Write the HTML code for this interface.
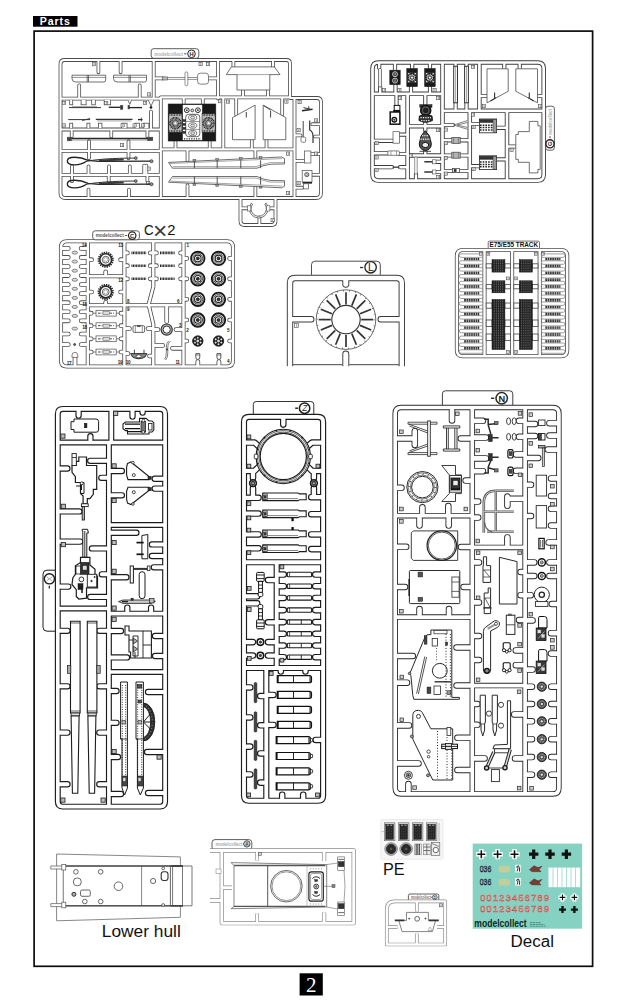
<!DOCTYPE html>
<html><head><meta charset="utf-8"><title>Parts</title>
<style>
html,body{margin:0;padding:0;background:#fff;}
body{width:625px;height:1000px;overflow:hidden;position:relative;font-family:"Liberation Sans",sans-serif;}
svg{position:absolute;left:0;top:0;display:block;}
</style></head><body>
<svg width="625" height="1000" viewBox="0 0 625 1000">
<rect x="0" y="0" width="625" height="1000" fill="#fff"/>
<rect x="34.1" y="31.1" width="558.5" height="935.2" fill="none" stroke="#0c0c0c" stroke-width="1.7"/>
<rect x="33" y="16" width="44.5" height="10.7" fill="#000"/>
<text x="55.2" y="25.3" font-size="10.6" text-anchor="middle" fill="#fff" font-family='"Liberation Sans", sans-serif' font-weight="bold" letter-spacing="0.9">Parts</text>
<rect x="299.6" y="973.3" width="23.2" height="22.2" fill="#000"/>
<text x="311.2" y="992.3" font-size="21" text-anchor="middle" fill="#fff" font-family='"Liberation Serif", serif' font-weight="normal" >2</text>
<path d="M64.5,60 H286.5 Q290,60 290,63.5 V98 H317 Q321,98 321,102 V193 Q321,198 316,198 H275.5 V221 Q275.5,225 271.5,225 H244.5 Q240.5,225 240.5,221 V198 H65.5 Q60.5,198 60.5,193 V64 Q60.5,60 64.5,60 Z M240.5,198 H275.5 M60.5,98.7 H160.8 M160.8,97.3 H290 M60.5,129.5 H160.8 M160.8,149.3 H294.5 M60.5,150.8 H160.8 M60.5,174.8 H160.8 M153.7,60 V98.5 M218,60 V98.5 M160.8,97.3 V198 M223.3,97.3 V149.3 M294.5,98 V198 " stroke="#4c4c4c" stroke-width="3.80" fill="none" stroke-linejoin="round" stroke-linecap="round"/>
<path d="M98.4,61 V72.3 M120.6,61 V72.3 M79.2,97.5 V85.3 M139.7,97.5 V85.3 M151,128.5 V111.5 M71.7,131 V136.5 M111.3,131 V136.5 M147.4,131 V136.5 M89,149.5 V141.2 M128.5,149.5 V141.2 M89,152 V158.2 M128.5,152 V158.2 M72,173.5 V166.3 M88.5,173.5 V166.3 M109,173.5 V166.3 M129.8,173.5 V166.3 M144.2,173.5 V165.5 M146.4,173.5 V165.5 M72,176 V181.2 M108.7,176 V181.2 M147.4,176 V181.2 M88.5,197 V189.6 M129,197 V189.6 M155,78.4 H162.6 M208.6,78.4 H217 M233.4,61 V67 M273,61 V67 M243,96.5 V90.5 M268,96.5 V90.5 M183.7,98 V104 M202.8,98 V104 M175.5,148.5 V141.5 M209.7,148.5 V141.5 M236.2,98 V114.5 M282.2,98 V114.5 M251.8,148.5 V140.3 M266.5,148.5 V140.3 M187.5,150 V160.6 M255.4,150 V157.6 M187.5,197 V185.2 M255.4,197 V187.4 M320,124.2 H312.3 M320,136.5 H315 M320,154 H311.3 M320,174.8 H312.6 M295.5,135.4 H300.6 M295.5,161 H304 M295.5,187.7 H302 M259.4,224 V217.4 M241.5,208.3 H247.5 M274.5,208.3 H270 " stroke="#4c4c4c" stroke-width="3.70" fill="none" stroke-linejoin="round" stroke-linecap="round"/>
<path d="M64.5,60 H286.5 Q290,60 290,63.5 V98 H317 Q321,98 321,102 V193 Q321,198 316,198 H275.5 V221 Q275.5,225 271.5,225 H244.5 Q240.5,225 240.5,221 V198 H65.5 Q60.5,198 60.5,193 V64 Q60.5,60 64.5,60 Z M240.5,198 H275.5 M60.5,98.7 H160.8 M160.8,97.3 H290 M60.5,129.5 H160.8 M160.8,149.3 H294.5 M60.5,150.8 H160.8 M60.5,174.8 H160.8 M153.7,60 V98.5 M218,60 V98.5 M160.8,97.3 V198 M223.3,97.3 V149.3 M294.5,98 V198 " stroke="#fff" stroke-width="2.20" fill="none" stroke-linejoin="round" stroke-linecap="round"/>
<path d="M98.4,61 V72.3 M120.6,61 V72.3 M79.2,97.5 V85.3 M139.7,97.5 V85.3 M151,128.5 V111.5 M71.7,131 V136.5 M111.3,131 V136.5 M147.4,131 V136.5 M89,149.5 V141.2 M128.5,149.5 V141.2 M89,152 V158.2 M128.5,152 V158.2 M72,173.5 V166.3 M88.5,173.5 V166.3 M109,173.5 V166.3 M129.8,173.5 V166.3 M144.2,173.5 V165.5 M146.4,173.5 V165.5 M72,176 V181.2 M108.7,176 V181.2 M147.4,176 V181.2 M88.5,197 V189.6 M129,197 V189.6 M155,78.4 H162.6 M208.6,78.4 H217 M233.4,61 V67 M273,61 V67 M243,96.5 V90.5 M268,96.5 V90.5 M183.7,98 V104 M202.8,98 V104 M175.5,148.5 V141.5 M209.7,148.5 V141.5 M236.2,98 V114.5 M282.2,98 V114.5 M251.8,148.5 V140.3 M266.5,148.5 V140.3 M187.5,150 V160.6 M255.4,150 V157.6 M187.5,197 V185.2 M255.4,197 V187.4 M320,124.2 H312.3 M320,136.5 H315 M320,154 H311.3 M320,174.8 H312.6 M295.5,135.4 H300.6 M295.5,161 H304 M295.5,187.7 H302 M259.4,224 V217.4 M241.5,208.3 H247.5 M274.5,208.3 H270 " stroke="#fff" stroke-width="2.10" fill="none" stroke-linejoin="round" stroke-linecap="round"/>
<rect x="151.2" y="48.7" width="47.60000000000002" height="9.599999999999994" rx="2.5" fill="#fff" stroke="#4c4c4c" stroke-width="0.9"/>
<text x="168.6" y="55.5" font-size="5.6" text-anchor="middle" fill="#b0b0b0" font-family='"Liberation Sans", sans-serif' font-weight="bold" textLength="28.8" lengthAdjust="spacingAndGlyphs">modelcollect</text>
<path d="M184.1,53.8 L186.5,53.8" stroke="#555" stroke-width="1.0" fill="none"/>
<circle cx="191.5" cy="53.8" r="3.8" fill="#fff" stroke="#222" stroke-width="1.0"/>
<text x="191.5" y="55.9" font-size="5.8" text-anchor="middle" fill="#222" font-family='"Liberation Sans", sans-serif' font-weight="bold" >H</text>
<path d="M71.2,99.9 V105.2" stroke="#4c4c4c" stroke-width="3.80" fill="none"/>
<path d="M71.2,99.9 V104.4" stroke="#fff" stroke-width="2.20" fill="none"/>
<path d="M83.6,99.9 V105.2" stroke="#4c4c4c" stroke-width="5.80" fill="none"/>
<path d="M83.6,99.9 V104.4" stroke="#fff" stroke-width="4.20" fill="none"/>
<path d="M93.5,99.9 V105.2" stroke="#4c4c4c" stroke-width="4.40" fill="none"/>
<path d="M93.5,99.9 V104.4" stroke="#fff" stroke-width="2.80" fill="none"/>
<path d="M107.4,99.9 V105.2" stroke="#4c4c4c" stroke-width="7.20" fill="none"/>
<path d="M107.4,99.9 V104.4" stroke="#fff" stroke-width="5.60" fill="none"/>
<path d="M128.1,100.3 L129.8,104.4 L131.5,100.3 M148.3,100.3 L151,106 L153.8,100.3" fill="#fff" stroke="#4c4c4c" stroke-width="0.8" />
<path d="M71.2,128.3 V122.8" stroke="#4c4c4c" stroke-width="3.80" fill="none"/>
<path d="M71.2,128.3 V123.6" stroke="#fff" stroke-width="2.20" fill="none"/>
<path d="M88.4,128.3 V122.8" stroke="#4c4c4c" stroke-width="3.80" fill="none"/>
<path d="M88.4,128.3 V123.6" stroke="#fff" stroke-width="2.20" fill="none"/>
<path d="M100.2,128.3 V122.8" stroke="#4c4c4c" stroke-width="4.30" fill="none"/>
<path d="M100.2,128.3 V123.6" stroke="#fff" stroke-width="2.70" fill="none"/>
<path d="M124.3,128.3 V122.8" stroke="#4c4c4c" stroke-width="6.30" fill="none"/>
<path d="M124.3,128.3 V123.6" stroke="#fff" stroke-width="4.70" fill="none"/>
<path d="M137.2,128.3 V122.8" stroke="#4c4c4c" stroke-width="5.30" fill="none"/>
<path d="M137.2,128.3 V123.6" stroke="#fff" stroke-width="3.70" fill="none"/>
<path d="M146.1,128.3 V122.8" stroke="#4c4c4c" stroke-width="6.40" fill="none"/>
<path d="M146.1,128.3 V123.6" stroke="#fff" stroke-width="4.80" fill="none"/>
<rect x="92.3" y="62.6" width="3.2" height="3.2" fill="#fff" stroke="#4c4c4c" stroke-width="0.6"/>
<path d="M94.1,63.2 v2.0" stroke="#4c4c4c" stroke-width="0.6"/>
<rect x="147.5" y="92.8" width="3.2" height="3.2" fill="#fff" stroke="#4c4c4c" stroke-width="0.6"/>
<path d="M149.3,93.4 v2.0" stroke="#4c4c4c" stroke-width="0.6"/>
<rect x="62.5" y="101.3" width="3.2" height="3.2" fill="#fff" stroke="#4c4c4c" stroke-width="0.6"/>
<path d="M64.3,101.9 v2.0" stroke="#4c4c4c" stroke-width="0.6"/>
<rect x="104.6" y="101.3" width="3.2" height="3.2" fill="#fff" stroke="#4c4c4c" stroke-width="0.6"/>
<path d="M106.4,101.9 v2.0" stroke="#4c4c4c" stroke-width="0.6"/>
<rect x="143.5" y="101.3" width="3.2" height="3.2" fill="#fff" stroke="#4c4c4c" stroke-width="0.6"/>
<path d="M145.3,101.9 v2.0" stroke="#4c4c4c" stroke-width="0.6"/>
<rect x="62.3" y="123.8" width="3.2" height="3.2" fill="#fff" stroke="#4c4c4c" stroke-width="0.6"/>
<path d="M64.1,124.4 v2.0" stroke="#4c4c4c" stroke-width="0.6"/>
<rect x="121.0" y="123.8" width="3.2" height="3.2" fill="#fff" stroke="#4c4c4c" stroke-width="0.6"/>
<path d="M122.8,124.4 v2.0" stroke="#4c4c4c" stroke-width="0.6"/>
<rect x="133.0" y="123.8" width="3.2" height="3.2" fill="#fff" stroke="#4c4c4c" stroke-width="0.6"/>
<path d="M134.8,124.4 v2.0" stroke="#4c4c4c" stroke-width="0.6"/>
<rect x="141.5" y="123.8" width="3.2" height="3.2" fill="#fff" stroke="#4c4c4c" stroke-width="0.6"/>
<path d="M143.3,124.4 v2.0" stroke="#4c4c4c" stroke-width="0.6"/>
<rect x="120.5" y="143.5" width="3.2" height="3.2" fill="#fff" stroke="#4c4c4c" stroke-width="0.6"/>
<path d="M122.3,144.1 v2.0" stroke="#4c4c4c" stroke-width="0.6"/>
<rect x="147.2" y="167.0" width="3.2" height="3.2" fill="#fff" stroke="#4c4c4c" stroke-width="0.6"/>
<path d="M149.0,167.6 v2.0" stroke="#4c4c4c" stroke-width="0.6"/>
<rect x="146.5" y="181.5" width="3.2" height="3.2" fill="#fff" stroke="#4c4c4c" stroke-width="0.6"/>
<path d="M148.3,182.1 v2.0" stroke="#4c4c4c" stroke-width="0.6"/>
<rect x="199.0" y="62.5" width="3.2" height="3.2" fill="#fff" stroke="#4c4c4c" stroke-width="0.6"/>
<path d="M200.8,63.1 v2.0" stroke="#4c4c4c" stroke-width="0.6"/>
<rect x="206.5" y="62.5" width="3.2" height="3.2" fill="#fff" stroke="#4c4c4c" stroke-width="0.6"/>
<path d="M208.3,63.1 v2.0" stroke="#4c4c4c" stroke-width="0.6"/>
<rect x="218.4" y="99.6" width="3.2" height="3.2" fill="#fff" stroke="#4c4c4c" stroke-width="0.6"/>
<path d="M220.2,100.2 v2.0" stroke="#4c4c4c" stroke-width="0.6"/>
<rect x="226.5" y="100.0" width="3.2" height="3.2" fill="#fff" stroke="#4c4c4c" stroke-width="0.6"/>
<path d="M228.3,100.6 v2.0" stroke="#4c4c4c" stroke-width="0.6"/>
<rect x="284.8" y="100.0" width="3.2" height="3.2" fill="#fff" stroke="#4c4c4c" stroke-width="0.6"/>
<path d="M286.6,100.6 v2.0" stroke="#4c4c4c" stroke-width="0.6"/>
<rect x="298.0" y="100.5" width="3.2" height="3.2" fill="#fff" stroke="#4c4c4c" stroke-width="0.6"/>
<path d="M299.8,101.1 v2.0" stroke="#4c4c4c" stroke-width="0.6"/>
<rect x="314.5" y="118.8" width="3.2" height="3.2" fill="#fff" stroke="#4c4c4c" stroke-width="0.6"/>
<path d="M316.3,119.4 v2.0" stroke="#4c4c4c" stroke-width="0.6"/>
<rect x="297.0" y="128.5" width="3.2" height="3.2" fill="#fff" stroke="#4c4c4c" stroke-width="0.6"/>
<path d="M298.8,129.1 v2.0" stroke="#4c4c4c" stroke-width="0.6"/>
<rect x="314.5" y="152.0" width="3.2" height="3.2" fill="#fff" stroke="#4c4c4c" stroke-width="0.6"/>
<path d="M316.3,152.6 v2.0" stroke="#4c4c4c" stroke-width="0.6"/>
<rect x="297.0" y="181.5" width="3.2" height="3.2" fill="#fff" stroke="#4c4c4c" stroke-width="0.6"/>
<path d="M298.8,182.1 v2.0" stroke="#4c4c4c" stroke-width="0.6"/>
<rect x="286.5" y="152.0" width="3.2" height="3.2" fill="#fff" stroke="#4c4c4c" stroke-width="0.6"/>
<path d="M288.3,152.6 v2.0" stroke="#4c4c4c" stroke-width="0.6"/>
<rect x="286.5" y="191.5" width="3.2" height="3.2" fill="#fff" stroke="#4c4c4c" stroke-width="0.6"/>
<path d="M288.3,192.1 v2.0" stroke="#4c4c4c" stroke-width="0.6"/>
<rect x="271.0" y="218.5" width="3.2" height="3.2" fill="#fff" stroke="#4c4c4c" stroke-width="0.6"/>
<path d="M272.8,219.1 v2.0" stroke="#4c4c4c" stroke-width="0.6"/>
<path d="M72,75.2 H105.7 V80 Q105.7,82 103.7,82 H75.5 Q72,82 72,78.5 Z" fill="#fff" stroke="#4c4c4c" stroke-width="0.8" />
<path d="M88.5,75.2 L88.5,82.0" stroke="#4c4c4c" stroke-width="0.8" fill="none"/>
<path d="M87.2,75.2 L87.2,82.0" stroke="#4c4c4c" stroke-width="0.8" fill="none"/>
<path d="M72.0,77.4 L105.7,77.4" stroke="#4c4c4c" stroke-width="0.6" fill="none"/>
<path d="M113.5,75.2 H146.5 V80 Q146.5,82 144.5,82 H117.0 Q113.5,82 113.5,78.5 Z" fill="#fff" stroke="#4c4c4c" stroke-width="0.8" />
<path d="M130.3,75.2 L130.3,82.0" stroke="#4c4c4c" stroke-width="0.8" fill="none"/>
<path d="M129.0,75.2 L129.0,82.0" stroke="#4c4c4c" stroke-width="0.8" fill="none"/>
<path d="M113.5,77.4 L146.5,77.4" stroke="#4c4c4c" stroke-width="0.6" fill="none"/>
<path d="M69.0,107.6 L101.0,107.6" stroke="#333" stroke-width="1.0" fill="none"/>
<path d="M72.0,106.6 L97.0,106.6" stroke="#4c4c4c" stroke-width="0.5" fill="none"/>
<path d="M108.7,107.3 L122.8,107.3" stroke="#222" stroke-width="1.3" fill="none"/>
<rect x="120.6" y="105.3" width="2.2" height="4.0" rx="0" fill="#333" stroke="#4c4c4c" stroke-width="0.6"/>
<path d="M128.0,107.6 L142.0,107.6" stroke="#222" stroke-width="1.3" fill="none"/>
<rect x="128.0" y="105.5" width="1.6" height="3.4" rx="0" fill="#333" stroke="#4c4c4c" stroke-width="0.6"/>
<circle cx="151.0" cy="107.4" r="1.1" fill="#222" stroke="#222" stroke-width="0.6"/>
<path d="M68.2,119.6 L90.2,119.6" stroke="#333" stroke-width="1.0" fill="none"/>
<path d="M82.0,120.8 L90.0,118.3" stroke="#333" stroke-width="0.8" fill="none"/>
<path d="M95.8,119.4 L132.5,119.4" stroke="#333" stroke-width="1.1" fill="none"/>
<path d="M97.0,120.9 L131.5,120.9" stroke="#4c4c4c" stroke-width="0.5" fill="none"/>
<path d="M138.0,119.6 L142.5,119.6" stroke="#222" stroke-width="1.3" fill="none"/>
<path d="M141.4,117.6 L141.4,121.5" stroke="#333" stroke-width="0.8" fill="none"/>
<path d="M67.3,138.5 L152.7,138.5" stroke="#2a2a2a" stroke-width="1.7" fill="none"/>
<path d="M67.3,140.1 L152.7,140.1" stroke="#4c4c4c" stroke-width="0.5" fill="none"/>
<rect x="67.3" y="137.2" width="4.0" height="3.6" rx="0" fill="#444" stroke="#4c4c4c" stroke-width="0.6"/>
<rect x="147.5" y="137.2" width="5.2" height="3.4" rx="0" fill="#444" stroke="#4c4c4c" stroke-width="0.6"/>
<path d="M86,161.6 C80,166.0 67.3,166.0 67.3,161.0 C67.3,155.8 80,156.4 88,160.4 L99,161.3 L152,161.2" fill="none" stroke="#222" stroke-width="1.3" />
<path d="M86,161.6 C92,159.8 110,158.2 131,158.1 L135.5,158.1" fill="none" stroke="#333" stroke-width="1.0" />
<path d="M99.0,160.6 L123.7,159.6" stroke="#3a3a3a" stroke-width="2.0" fill="none"/>
<circle cx="151.5" cy="161.2" r="1.5" fill="#999" stroke="#333" stroke-width="0.8"/>
<circle cx="135.8" cy="158.1" r="1.4" fill="#999" stroke="#333" stroke-width="0.8"/>
<path d="M86,184.6 C80,189.0 67.3,189.0 67.3,184.0 C67.3,178.8 80,179.4 88,183.4 L99,184.3 L152,184.2" fill="none" stroke="#222" stroke-width="1.3" />
<path d="M86,184.6 C92,182.8 110,181.2 131,181.1 L135.5,181.1" fill="none" stroke="#333" stroke-width="1.0" />
<path d="M99.0,183.6 L123.7,182.6" stroke="#3a3a3a" stroke-width="2.0" fill="none"/>
<circle cx="151.5" cy="184.2" r="1.5" fill="#999" stroke="#333" stroke-width="0.8"/>
<circle cx="135.8" cy="181.1" r="1.4" fill="#999" stroke="#333" stroke-width="0.8"/>
<path d="M162.6,77.5 H197.4 M162.6,79.4 H197.4" fill="none" stroke="#4c4c4c" stroke-width="0.6" />
<rect x="162.6" y="76.9" width="5.0" height="3.1" rx="0" fill="#bbb" stroke="#4c4c4c" stroke-width="0.6"/>
<rect x="185.0" y="72.0" width="2.8" height="13.6" rx="1" fill="#fff" stroke="#4c4c4c" stroke-width="0.6"/>
<rect x="197.6" y="73.2" width="10.9" height="10.9" rx="2.6" fill="#fff" stroke="#4c4c4c" stroke-width="0.7"/>
<path d="M231.4,66.9 L274.4,66.9 L280.0,74.6 L269.8,74.6 L269.8,90.0 L237.0,90.0 L237.0,74.6 L226.3,74.6 Z" fill="#fff" stroke="#4c4c4c" stroke-width="0.8" stroke-linejoin="round"/>
<path d="M237.0,74.6 L269.8,74.6" stroke="#4c4c4c" stroke-width="0.5" fill="none"/>
<rect x="168.2" y="104.0" width="47.6" height="37.0" rx="0" fill="#1a1a1a" stroke="#1a1a1a" stroke-width="0.6"/>
<rect x="182.5" y="104.7" width="19.9" height="35.6" rx="0" fill="#fff" stroke="#111" stroke-width="0.5"/>
<rect x="168.8" y="113.7" width="13.2" height="18.6" rx="0" fill="#b8b8b8" stroke="#111" stroke-width="0.5"/>
<path d="M169.4,115 H181.4 M169.4,131 H181.4" stroke="#222" stroke-width="1.6" stroke-dasharray="0.8 0.8"/>
<circle cx="175.4" cy="123.2" r="5.4" fill="#bbb" stroke="#1a1a1a" stroke-width="1.8" stroke-dasharray="0.9 0.6"/>
<circle cx="175.4" cy="123.2" r="3.2" fill="none" stroke="#222" stroke-width="2.0" stroke-dasharray="0.7 0.6"/>
<circle cx="175.4" cy="123.2" r="1.5" fill="#fff" stroke="#444" stroke-width="0.4"/>
<rect x="202.0" y="113.7" width="13.2" height="18.6" rx="0" fill="#b8b8b8" stroke="#111" stroke-width="0.5"/>
<path d="M202.6,115 H214.6 M202.6,131 H214.6" stroke="#222" stroke-width="1.6" stroke-dasharray="0.8 0.8"/>
<circle cx="208.6" cy="123.2" r="5.4" fill="#bbb" stroke="#1a1a1a" stroke-width="1.8" stroke-dasharray="0.9 0.6"/>
<circle cx="208.6" cy="123.2" r="3.2" fill="none" stroke="#222" stroke-width="2.0" stroke-dasharray="0.7 0.6"/>
<circle cx="208.6" cy="123.2" r="1.5" fill="#fff" stroke="#444" stroke-width="0.4"/>
<circle cx="186.8" cy="110.2" r="2.4" fill="#fff" stroke="#111" stroke-width="0.9"/>
<circle cx="197.9" cy="110.2" r="2.4" fill="#fff" stroke="#111" stroke-width="0.9"/>
<circle cx="192.3" cy="110.4" r="1.4" fill="#ddd" stroke="#222" stroke-width="0.8"/>
<circle cx="186.8" cy="110.2" r="0.7" fill="#333" stroke="#333" stroke-width="0.5"/>
<circle cx="197.9" cy="110.2" r="0.7" fill="#333" stroke="#333" stroke-width="0.5"/>
<rect x="185.7" y="114.3" width="14.1" height="22.4" rx="3" fill="#fff" stroke="#222" stroke-width="0.7"/>
<ellipse cx="192.7" cy="117.6" rx="4.1" ry="2.7" fill="#fff" stroke="#333" stroke-width="0.7"/>
<ellipse cx="192.7" cy="117.6" rx="2.1" ry="1.4" fill="#ddd" stroke="#444" stroke-width="0.6"/>
<ellipse cx="192.7" cy="125.5" rx="4.1" ry="2.7" fill="#fff" stroke="#333" stroke-width="0.7"/>
<ellipse cx="192.7" cy="125.5" rx="2.1" ry="1.4" fill="#ddd" stroke="#444" stroke-width="0.6"/>
<ellipse cx="192.7" cy="133.2" rx="4.1" ry="2.7" fill="#fff" stroke="#333" stroke-width="0.7"/>
<ellipse cx="192.7" cy="133.2" rx="2.1" ry="1.4" fill="#ddd" stroke="#444" stroke-width="0.6"/>
<path d="M185.7,121.5 L199.8,121.5" stroke="#333" stroke-width="0.5" fill="none"/>
<path d="M185.7,129.4 L199.8,129.4" stroke="#333" stroke-width="0.5" fill="none"/>
<rect x="183.1" y="119.6" width="2.6" height="2.0" rx="0" fill="#333" stroke="#111" stroke-width="0.4"/>
<rect x="183.1" y="123.4" width="2.6" height="2.0" rx="0" fill="#333" stroke="#111" stroke-width="0.4"/>
<rect x="183.1" y="127.4" width="2.6" height="2.0" rx="0" fill="#333" stroke="#111" stroke-width="0.4"/>
<rect x="183.1" y="131.4" width="2.6" height="2.0" rx="0" fill="#333" stroke="#111" stroke-width="0.4"/>
<path d="M184,138.8 H201" stroke="#222" stroke-width="1.2" stroke-dasharray="1.2 1.2"/>
<path d="M255.1,105.1 L232.5,117.6 L232.5,139.7 L255.1,139.7 Z" fill="#fff" stroke="#4c4c4c" stroke-width="0.8" stroke-linejoin="round"/>
<path d="M263.2,105.1 L285.8,117.6 L285.8,139.7 L263.2,139.7 Z" fill="#fff" stroke="#4c4c4c" stroke-width="0.8" stroke-linejoin="round"/>
<path d="M246.3,112.0 L246.3,117.5" stroke="#444" stroke-width="1.0" fill="none"/>
<path d="M270.6,111.0 L270.6,117.5" stroke="#444" stroke-width="1.0" fill="none"/>
<path d="M263.6,105.6 L271.0,110.3" stroke="#444" stroke-width="0.9" fill="none"/>
<path d="M168.5,162.4 L281.5,157.0 L284.5,158.5 L284.5,164.0 L271.0,164.2 L264.0,165.5 L257.0,168.2 L172.4,168.2 Z" fill="#fff" stroke="#4c4c4c" stroke-width="0.8" stroke-linejoin="round"/>
<path d="M170,163.5 L282,158.6 M172.5,166.6 H256 Q262,164.5 270,162.6 H284.5" fill="none" stroke="#4c4c4c" stroke-width="0.5" />
<path d="M172.4,176.5 L257.0,176.5 L264.0,179.2 L271.0,180.5 L284.5,180.7 L284.5,186.3 L281.5,187.8 L168.5,182.2 Z" fill="#fff" stroke="#4c4c4c" stroke-width="0.8" stroke-linejoin="round"/>
<path d="M172.5,178.1 H256 Q262,180.2 270,182.1 H284.5 M170,181.1 L282,186.1" fill="none" stroke="#4c4c4c" stroke-width="0.5" />
<path d="M194.4,160.3 L194.4,168.2" stroke="#444" stroke-width="0.9" fill="none"/>
<path d="M194.4,176.5 L194.4,184.6" stroke="#444" stroke-width="0.9" fill="none"/>
<rect x="193.0" y="159.4" width="2.8" height="1.8" rx="0" fill="#999" stroke="#444" stroke-width="0.5"/>
<rect x="193.0" y="183.6" width="2.8" height="1.8" rx="0" fill="#999" stroke="#444" stroke-width="0.5"/>
<path d="M217.2,160.3 L217.2,168.2" stroke="#444" stroke-width="0.9" fill="none"/>
<path d="M217.2,176.5 L217.2,184.6" stroke="#444" stroke-width="0.9" fill="none"/>
<rect x="215.8" y="158.5" width="2.8" height="1.8" rx="0" fill="#999" stroke="#444" stroke-width="0.5"/>
<rect x="215.8" y="184.5" width="2.8" height="1.8" rx="0" fill="#999" stroke="#444" stroke-width="0.5"/>
<path d="M240.8,160.3 L240.8,168.2" stroke="#444" stroke-width="0.9" fill="none"/>
<path d="M240.8,176.5 L240.8,184.6" stroke="#444" stroke-width="0.9" fill="none"/>
<rect x="239.4" y="157.5" width="2.8" height="1.8" rx="0" fill="#999" stroke="#444" stroke-width="0.5"/>
<rect x="239.4" y="185.5" width="2.8" height="1.8" rx="0" fill="#999" stroke="#444" stroke-width="0.5"/>
<path d="M260.6,160.3 L260.6,168.2" stroke="#444" stroke-width="0.9" fill="none"/>
<path d="M260.6,176.5 L260.6,184.6" stroke="#444" stroke-width="0.9" fill="none"/>
<rect x="259.2" y="156.7" width="2.8" height="1.8" rx="0" fill="#999" stroke="#444" stroke-width="0.5"/>
<rect x="259.2" y="186.3" width="2.8" height="1.8" rx="0" fill="#999" stroke="#444" stroke-width="0.5"/>
<path d="M302.0,110.8 L312.6,109.2" stroke="#222" stroke-width="1.6" fill="none"/>
<path d="M303.5,107.6 L311.0,109.6" stroke="#333" stroke-width="1.0" fill="none"/>
<path d="M308.6,106.3 L309.2,110.0" stroke="#333" stroke-width="1.0" fill="none"/>
<path d="M303.2,121.0 L303.2,137.0" stroke="#444" stroke-width="1.0" fill="none"/>
<rect x="301.0" y="137.0" width="4.7" height="5.3" rx="1.4" fill="#fff" stroke="#4c4c4c" stroke-width="0.7"/>
<path d="M309.7,120.5 V130 Q312.8,131.5 313,136 V143" fill="none" stroke="#333" stroke-width="1.2" />
<rect x="304.5" y="151.0" width="6.4" height="12.0" rx="0" fill="#fff" stroke="#4c4c4c" stroke-width="0.7"/>
<rect x="302.2" y="170.5" width="9.8" height="11.5" rx="0" fill="#fff" stroke="#4c4c4c" stroke-width="0.7"/>
<circle cx="306.8" cy="174.6" r="2.1" fill="#fff" stroke="#333" stroke-width="0.8"/>
<circle cx="306.8" cy="174.6" r="1.0" fill="#fff" stroke="#333" stroke-width="0.5"/>
<path d="M302.6,182.8 L312.0,182.8" stroke="#222" stroke-width="1.7" fill="none"/>
<rect x="303.4" y="183.8" width="5.2" height="5.1" rx="0" fill="#fff" stroke="#4c4c4c" stroke-width="0.7"/>
<path d="M251.2,203.2 A9.3,9.3 0 1 0 266.2,203.2 L264.8,204.2 A7.6,7.6 0 1 1 252.6,204.2 Z" fill="#fff" stroke="#4c4c4c" stroke-width="0.8" />
<rect x="247.6" y="205.8" width="3.2" height="5.2" rx="0" fill="#fff" stroke="#4c4c4c" stroke-width="0.6"/>
<rect x="266.7" y="205.8" width="3.2" height="5.2" rx="0" fill="#fff" stroke="#4c4c4c" stroke-width="0.6"/>
<path d="M378.5,62.5 H537.7 Q543.7,62.5 543.7,68.5 V174.6 Q543.7,180.6 537.7,180.6 H378.5 Q372.5,180.6 372.5,174.6 V68.5 Q372.5,62.5 378.5,62.5 Z M372.5,93.8 H442.5 M442.5,62.5 V180.6 M407.6,93.8 V180.6 M442.5,110.8 H543.7 M479.4,62.5 V110.8 M469.8,110.8 V180.6 M507,110.8 V180.6 M407.6,126.2 H442.5 M407.6,155.5 H442.5 " stroke="#3c3c3c" stroke-width="4.50" fill="none" stroke-linejoin="round" stroke-linecap="round"/>
<path d="M379.2,63.5 V68 M395,63.5 V68 M412.2,63.5 V68 M430,63.5 V68 M380.2,92.8 V87 M395.5,92.8 V87 M411,92.8 V87 M430,92.8 V87 M395,68 V70.5 M395.5,87 V85 M455.6,63.5 V66 M466.5,63.5 V66 M455.6,109.8 V103 M466.5,109.8 V103 M396.5,95 V105.5 M425.3,95 V104.5 M425.3,125 V121.5 M425.3,127.3 V131 M425.3,154.5 V151 M374,140.8 H393 M399.5,134.6 H406.5 M374,153.3 H388 M399.4,154 H406.5 M374,167.2 H392 M400,167.2 H406.5 M441.5,161.8 H436.2 M441.5,172 H436.2 M416,179.6 V174.4 M444,125 H453 M444,140.3 H451.8 M444,155.5 H451.8 M460.2,140.3 H468.5 M460.2,155.5 H468.5 M444,171 H452.5 M459.5,171 H468.5 M481,96 H486.5 M538,96 H542.5 M504.3,63.5 V68.3 M519.7,63.5 V68.3 M471,124 H479 M497,127.8 H505.8 M471,166.2 H479 M497,159.4 H505.8 M508.2,146.5 H515.5 " stroke="#3c3c3c" stroke-width="4.20" fill="none" stroke-linejoin="round" stroke-linecap="round"/>
<path d="M378.5,62.5 H537.7 Q543.7,62.5 543.7,68.5 V174.6 Q543.7,180.6 537.7,180.6 H378.5 Q372.5,180.6 372.5,174.6 V68.5 Q372.5,62.5 378.5,62.5 Z M372.5,93.8 H442.5 M442.5,62.5 V180.6 M407.6,93.8 V180.6 M442.5,110.8 H543.7 M479.4,62.5 V110.8 M469.8,110.8 V180.6 M507,110.8 V180.6 M407.6,126.2 H442.5 M407.6,155.5 H442.5 " stroke="#fff" stroke-width="2.70" fill="none" stroke-linejoin="round" stroke-linecap="round"/>
<path d="M379.2,63.5 V68 M395,63.5 V68 M412.2,63.5 V68 M430,63.5 V68 M380.2,92.8 V87 M395.5,92.8 V87 M411,92.8 V87 M430,92.8 V87 M395,68 V70.5 M395.5,87 V85 M455.6,63.5 V66 M466.5,63.5 V66 M455.6,109.8 V103 M466.5,109.8 V103 M396.5,95 V105.5 M425.3,95 V104.5 M425.3,125 V121.5 M425.3,127.3 V131 M425.3,154.5 V151 M374,140.8 H393 M399.5,134.6 H406.5 M374,153.3 H388 M399.4,154 H406.5 M374,167.2 H392 M400,167.2 H406.5 M441.5,161.8 H436.2 M441.5,172 H436.2 M416,179.6 V174.4 M444,125 H453 M444,140.3 H451.8 M444,155.5 H451.8 M460.2,140.3 H468.5 M460.2,155.5 H468.5 M444,171 H452.5 M459.5,171 H468.5 M481,96 H486.5 M538,96 H542.5 M504.3,63.5 V68.3 M519.7,63.5 V68.3 M471,124 H479 M497,127.8 H505.8 M471,166.2 H479 M497,159.4 H505.8 M508.2,146.5 H515.5 " stroke="#fff" stroke-width="2.40" fill="none" stroke-linejoin="round" stroke-linecap="round"/>
<rect x="545.6" y="106.2" width="8.799999999999955" height="43.999999999999986" rx="2.5" fill="#fff" stroke="#4c4c4c" stroke-width="0.9"/>
<text transform="translate(551.7,122.0) rotate(-90)" font-size="5.6" text-anchor="middle" fill="#aaa" font-family='"Liberation Sans", sans-serif' font-weight="bold" textLength="25.6" lengthAdjust="spacingAndGlyphs">modelcollect</text>
<path d="M550.0,136.2 L550.0,138.2" stroke="#444" stroke-width="1.0" fill="none"/>
<circle cx="550.0" cy="143.8" r="4.1" fill="#fff" stroke="#222" stroke-width="1.4"/>
<text transform="translate(552.0,143.8) rotate(-90)" font-size="5.8" text-anchor="middle" fill="#222" font-family='"Liberation Sans", sans-serif' font-weight="bold">G</text>
<rect x="382.5" y="88.5" width="3.2" height="3.2" fill="#fff" stroke="#4c4c4c" stroke-width="0.6"/>
<path d="M384.3,89.1 v2.0" stroke="#4c4c4c" stroke-width="0.6"/>
<rect x="397.8" y="88.5" width="3.2" height="3.2" fill="#fff" stroke="#4c4c4c" stroke-width="0.6"/>
<path d="M399.6,89.1 v2.0" stroke="#4c4c4c" stroke-width="0.6"/>
<rect x="433.0" y="88.5" width="3.2" height="3.2" fill="#fff" stroke="#4c4c4c" stroke-width="0.6"/>
<path d="M434.8,89.1 v2.0" stroke="#4c4c4c" stroke-width="0.6"/>
<rect x="471.5" y="65.3" width="3.2" height="3.2" fill="#fff" stroke="#4c4c4c" stroke-width="0.6"/>
<path d="M473.3,65.9 v2.0" stroke="#4c4c4c" stroke-width="0.6"/>
<rect x="398.5" y="96.5" width="3.2" height="3.2" fill="#fff" stroke="#4c4c4c" stroke-width="0.6"/>
<path d="M400.3,97.1 v2.0" stroke="#4c4c4c" stroke-width="0.6"/>
<rect x="436.5" y="96.5" width="3.2" height="3.2" fill="#fff" stroke="#4c4c4c" stroke-width="0.6"/>
<path d="M438.3,97.1 v2.0" stroke="#4c4c4c" stroke-width="0.6"/>
<rect x="436.5" y="128.5" width="3.2" height="3.2" fill="#fff" stroke="#4c4c4c" stroke-width="0.6"/>
<path d="M438.3,129.1 v2.0" stroke="#4c4c4c" stroke-width="0.6"/>
<rect x="375.0" y="141.5" width="3.2" height="3.2" fill="#fff" stroke="#4c4c4c" stroke-width="0.6"/>
<path d="M376.8,142.1 v2.0" stroke="#4c4c4c" stroke-width="0.6"/>
<rect x="375.0" y="155.8" width="3.2" height="3.2" fill="#fff" stroke="#4c4c4c" stroke-width="0.6"/>
<path d="M376.8,156.4 v2.0" stroke="#4c4c4c" stroke-width="0.6"/>
<rect x="375.0" y="168.3" width="3.2" height="3.2" fill="#fff" stroke="#4c4c4c" stroke-width="0.6"/>
<path d="M376.8,168.9 v2.0" stroke="#4c4c4c" stroke-width="0.6"/>
<rect x="409.5" y="154.0" width="3.2" height="3.2" fill="#fff" stroke="#4c4c4c" stroke-width="0.6"/>
<path d="M411.3,154.6 v2.0" stroke="#4c4c4c" stroke-width="0.6"/>
<rect x="436.5" y="175.5" width="3.2" height="3.2" fill="#fff" stroke="#4c4c4c" stroke-width="0.6"/>
<path d="M438.3,176.1 v2.0" stroke="#4c4c4c" stroke-width="0.6"/>
<rect x="444.3" y="128.0" width="3.2" height="3.2" fill="#fff" stroke="#4c4c4c" stroke-width="0.6"/>
<path d="M446.1,128.6 v2.0" stroke="#4c4c4c" stroke-width="0.6"/>
<rect x="444.3" y="141.5" width="3.2" height="3.2" fill="#fff" stroke="#4c4c4c" stroke-width="0.6"/>
<path d="M446.1,142.1 v2.0" stroke="#4c4c4c" stroke-width="0.6"/>
<rect x="444.3" y="156.3" width="3.2" height="3.2" fill="#fff" stroke="#4c4c4c" stroke-width="0.6"/>
<path d="M446.1,156.9 v2.0" stroke="#4c4c4c" stroke-width="0.6"/>
<rect x="444.3" y="172.0" width="3.2" height="3.2" fill="#fff" stroke="#4c4c4c" stroke-width="0.6"/>
<path d="M446.1,172.6 v2.0" stroke="#4c4c4c" stroke-width="0.6"/>
<rect x="482.3" y="104.5" width="3.2" height="3.2" fill="#fff" stroke="#4c4c4c" stroke-width="0.6"/>
<path d="M484.1,105.1 v2.0" stroke="#4c4c4c" stroke-width="0.6"/>
<rect x="538.5" y="104.5" width="3.2" height="3.2" fill="#fff" stroke="#4c4c4c" stroke-width="0.6"/>
<path d="M540.3,105.1 v2.0" stroke="#4c4c4c" stroke-width="0.6"/>
<rect x="472.0" y="125.5" width="3.2" height="3.2" fill="#fff" stroke="#4c4c4c" stroke-width="0.6"/>
<path d="M473.8,126.1 v2.0" stroke="#4c4c4c" stroke-width="0.6"/>
<rect x="472.0" y="167.5" width="3.2" height="3.2" fill="#fff" stroke="#4c4c4c" stroke-width="0.6"/>
<path d="M473.8,168.1 v2.0" stroke="#4c4c4c" stroke-width="0.6"/>
<rect x="510.0" y="148.2" width="3.2" height="3.2" fill="#fff" stroke="#4c4c4c" stroke-width="0.6"/>
<path d="M511.8,148.8 v2.0" stroke="#4c4c4c" stroke-width="0.6"/>
<rect x="471.5" y="113.0" width="3.2" height="3.2" fill="#fff" stroke="#4c4c4c" stroke-width="0.6"/>
<path d="M473.3,113.6 v2.0" stroke="#4c4c4c" stroke-width="0.6"/>
<rect x="378.6" y="68.4" width="2.8" height="18.6" rx="1.2" fill="#fff" stroke="#4c4c4c" stroke-width="0.8"/>
<rect x="389.8" y="70.2" width="10.4" height="14.4" rx="0" fill="#1a1a1a" stroke="#1a1a1a" stroke-width="0.6"/>
<circle cx="395.0" cy="74.2" r="2.5" fill="#2a2a2a" stroke="#e8e8e8" stroke-width="0.8"/>
<circle cx="395.0" cy="74.2" r="1.0" fill="#555" stroke="#ccc" stroke-width="0.4"/>
<circle cx="395.0" cy="80.6" r="2.5" fill="#2a2a2a" stroke="#e8e8e8" stroke-width="0.8"/>
<circle cx="395.0" cy="80.6" r="1.0" fill="#555" stroke="#ccc" stroke-width="0.4"/>
<rect x="406.8" y="68.6" width="10.5" height="18.0" rx="0" fill="#1a1a1a" stroke="#1a1a1a" stroke-width="0.6"/>
<rect x="407.4" y="72.6" width="9.3" height="10.0" rx="0" fill="#4a4a4a" stroke="#333" stroke-width="0.3"/>
<circle cx="412.05" cy="77.6" r="3.7" fill="#ddd" stroke="#1a1a1a" stroke-width="1.9" stroke-dasharray="1.1 0.7"/>
<circle cx="412.05" cy="77.6" r="1.7" fill="#eee" stroke="#222" stroke-width="1.0"/>
<path d="M408.2,73.6 h1.2 M414.7,73.6 h1.2 M408.2,81.6 h1.2 M414.7,81.6 h1.2" stroke="#eee" stroke-width="1.1"/>
<rect x="424.7" y="68.6" width="10.5" height="18.0" rx="0" fill="#1a1a1a" stroke="#1a1a1a" stroke-width="0.6"/>
<rect x="425.3" y="72.6" width="9.3" height="10.0" rx="0" fill="#4a4a4a" stroke="#333" stroke-width="0.3"/>
<circle cx="429.95" cy="77.6" r="3.7" fill="#ddd" stroke="#1a1a1a" stroke-width="1.9" stroke-dasharray="1.1 0.7"/>
<circle cx="429.95" cy="77.6" r="1.7" fill="#eee" stroke="#222" stroke-width="1.0"/>
<path d="M426.09999999999997,73.6 h1.2 M432.59999999999997,73.6 h1.2 M426.09999999999997,81.6 h1.2 M432.59999999999997,81.6 h1.2" stroke="#eee" stroke-width="1.1"/>
<rect x="453.7" y="66.3" width="3.8" height="36.5" rx="0" fill="#fff" stroke="#333" stroke-width="1.0"/>
<path d="M455.6,66.3 L455.6,102.8" stroke="#4c4c4c" stroke-width="0.5" fill="none"/>
<rect x="464.6" y="66.3" width="3.8" height="36.5" rx="0" fill="#fff" stroke="#333" stroke-width="1.0"/>
<path d="M466.5,66.3 L466.5,102.8" stroke="#4c4c4c" stroke-width="0.5" fill="none"/>
<rect x="394.2" y="105.4" width="5.7" height="5.0" rx="0" fill="#fff" stroke="#111" stroke-width="1.0"/>
<rect x="393.6" y="110.2" width="6.3" height="2.4" rx="0" fill="#111" stroke="#111" stroke-width="0.4"/>
<rect x="390.2" y="112.0" width="9.7" height="12.2" rx="0" fill="#fff" stroke="#111" stroke-width="1.5"/>
<circle cx="394.3" cy="119.7" r="2.3" fill="#fff" stroke="#111" stroke-width="1.3"/>
<circle cx="394.3" cy="119.7" r="0.8" fill="#555" stroke="#111" stroke-width="0.5"/>
<rect x="419.8" y="104.7" width="12.2" height="2.7" rx="0" fill="#333" stroke="#111" stroke-width="0.5"/>
<circle cx="425.7" cy="110.4" r="4.9" fill="#555" stroke="#111" stroke-width="1.7"/>
<circle cx="425.7" cy="110.4" r="2.2" fill="#222" stroke="#111" stroke-width="0.8"/>
<path d="M419.4,116 Q425.7,113.4 432,116 L432.4,120.5 Q425.7,124 419,120.5 Z" fill="#333" stroke="#111" stroke-width="1.0" />
<path d="M420.4,117.6 H431 M421,120.6 H430.4" stroke="#e6e6e6" stroke-width="1.3" stroke-dasharray="1.3 1.1"/>
<path d="M425.3,130.7 L429.5,136 L431.3,143.5 Q431.5,149.5 425.3,150.6 Q419.1,149.5 419.3,143.5 L421.1,136 Z" fill="#555" stroke="#111" stroke-width="1.0" />
<ellipse cx="425.3" cy="145.0" rx="3.4" ry="2.6" fill="#eee" stroke="#111" stroke-width="1.0"/>
<path d="M420.5,139.3 H430.2 M422,135.6 H428.6" stroke="#e6e6e6" stroke-width="1.4" stroke-dasharray="1.3 1"/>
<path d="M419.5,151.3 L431.0,151.3" stroke="#333" stroke-width="0.9" fill="none"/>
<rect x="414.7" y="156.8" width="2.5" height="17.3" rx="1" fill="#fff" stroke="#4c4c4c" stroke-width="0.6"/>
<path d="M424.3,161.8 L433.0,161.8" stroke="#333" stroke-width="1.5" fill="none"/>
<rect x="432.6" y="159.8" width="3.4" height="4.0" rx="0" fill="#fff" stroke="#4c4c4c" stroke-width="0.6"/>
<path d="M424.3,172.0 L433.0,172.0" stroke="#333" stroke-width="1.5" fill="none"/>
<rect x="432.6" y="170.0" width="3.4" height="4.0" rx="0" fill="#fff" stroke="#4c4c4c" stroke-width="0.6"/>
<rect x="393.0" y="131.7" width="6.4" height="11.5" rx="0" fill="#fff" stroke="#4c4c4c" stroke-width="0.7"/>
<rect x="387.8" y="150.9" width="11.6" height="4.4" rx="1" fill="#fff" stroke="#4c4c4c" stroke-width="0.7"/>
<path d="M391.0,150.9 L391.0,155.3" stroke="#4c4c4c" stroke-width="0.5" fill="none"/>
<path d="M396.5,150.9 L396.5,155.3" stroke="#4c4c4c" stroke-width="0.5" fill="none"/>
<path d="M392.6,167.2 L399.4,167.2" stroke="#444" stroke-width="1.4" fill="none"/>
<path d="M467.3,120.6 L453.5,125 L467.3,129.2 M467.3,122.6 L457,125 L467.3,127.4" fill="none" stroke="#4c4c4c" stroke-width="0.7" />
<rect x="451.8" y="137.4" width="8.4" height="6.0" rx="0" fill="#b5b5b5" stroke="#444" stroke-width="0.7"/>
<path d="M453.6,137.4 L453.6,143.4" stroke="#555" stroke-width="0.5" fill="none"/>
<path d="M458.4,137.4 L458.4,143.4" stroke="#555" stroke-width="0.5" fill="none"/>
<rect x="451.8" y="152.2" width="8.4" height="6.0" rx="0" fill="#b5b5b5" stroke="#444" stroke-width="0.7"/>
<path d="M453.6,152.2 L453.6,158.2" stroke="#555" stroke-width="0.5" fill="none"/>
<path d="M458.4,152.2 L458.4,158.2" stroke="#555" stroke-width="0.5" fill="none"/>
<rect x="452.5" y="168.6" width="7.0" height="3.8" rx="0" fill="#fff" stroke="#333" stroke-width="0.7"/>
<rect x="454.0" y="169.2" width="2.2" height="2.6" rx="0" fill="#333" stroke="#333" stroke-width="0.4"/>
<path d="M487.0,68.8 L508.2,68.8 L508.2,91.3 L487.0,102.8 Z" fill="#fff" stroke="#4c4c4c" stroke-width="0.8" stroke-linejoin="round"/>
<path d="M515.8,68.8 L537.5,68.8 L537.5,102.8 L515.8,91.3 Z" fill="#fff" stroke="#4c4c4c" stroke-width="0.8" stroke-linejoin="round"/>
<path d="M494.6,92.5 V98.3 M490.6,101 L496,97.6 M529.3,92.5 V98.3 M533.6,101 L528.2,97.6" fill="none" stroke="#333" stroke-width="1.1" />
<rect x="479.4" y="119.0" width="17.2" height="13.8" rx="0" fill="#fff" stroke="#222" stroke-width="0.8"/>
<rect x="479.8" y="119.4" width="16.4" height="3.2" rx="0" fill="#333" stroke="#222" stroke-width="0.4"/>
<path d="M480,125.2 H496 M480,127.6 H496 M480,130 H496" stroke="#222" stroke-width="1.5" stroke-dasharray="1.6 1.1"/>
<rect x="493.0" y="119.4" width="3.4" height="13.0" rx="0" fill="#999" stroke="#333" stroke-width="0.5"/>
<rect x="479.4" y="155.8" width="17.2" height="13.8" rx="0" fill="#fff" stroke="#222" stroke-width="0.8"/>
<rect x="479.8" y="156.2" width="16.4" height="3.2" rx="0" fill="#333" stroke="#222" stroke-width="0.4"/>
<path d="M480,162.0 H496 M480,164.4 H496 M480,166.8 H496" stroke="#222" stroke-width="1.5" stroke-dasharray="1.6 1.1"/>
<rect x="493.0" y="156.2" width="3.4" height="13.0" rx="0" fill="#999" stroke="#333" stroke-width="0.5"/>
<path d="M529.3,121.4 L537.9,121.4 L537.9,125.8 L540.2,125.8 L540.2,169.4 L537.9,169.4 L537.9,172.9 L529.3,172.9 L529.3,162.3 L518.3,162.3 L518.3,159.4 L515.8,159.4 L515.8,134.5 L518.3,134.5 L518.3,131.6 L529.3,131.6 Z" fill="#fff" stroke="#4c4c4c" stroke-width="0.8" stroke-linejoin="round"/>
<path d="M67,241.3 H227 Q233,241.3 233,247.3 V360.5 Q233,366.5 227,366.5 H67 Q61,366.5 61,360.5 V247.3 Q61,241.3 67,241.3 Z M87.8,241.3 V366.5 M124.4,241.3 V366.5 M183.5,241.3 V366.5 M153.3,241.3 V286.8 L148.6,304.5 L153.3,324 V366.5 M87.8,276.2 H124.4 M87.8,305.2 H183.5 " stroke="#4c4c4c" stroke-width="4.10" fill="none" stroke-linejoin="round" stroke-linecap="round"/>
<path d="M62.5,248.4 H68.3 M86.3,248.4 H81.2 M62.5,257.45 H68.3 M86.3,257.45 H81.2 M62.5,266.5 H68.3 M86.3,266.5 H81.2 M62.5,275.55 H68.3 M86.3,275.55 H81.2 M62.5,284.6 H68.3 M86.3,284.6 H81.2 M62.5,293.65 H68.3 M86.3,293.65 H81.2 M62.5,302.7 H68.3 M86.3,302.7 H81.2 M62.5,311.75 H68.3 M86.3,311.75 H81.2 M62.5,320.8 H68.3 M86.3,320.8 H81.2 M62.5,334 H68.3 M86.3,334 H81.2 M62.5,344.5 H68.3 M86.3,344.5 H81.2 M75,365.5 V358.5 M89.4,259.7 H91.6 M122.8,259.7 H120.6 M89.4,292 H91.6 M122.8,292 H120.6 M105.7,274.6 V271.8 M105.7,303.6 V302.3 M89.4,313.2 H91.2 M122.8,313.2 H121 M89.4,325.7 H91.2 M122.8,325.7 H121 M89.4,338.8 H91.2 M122.8,338.8 H121 M89.4,352 H91.2 M122.8,352 H121 M126,252.9 H127.4 M151.7,252.9 H150.3 M155,252.9 H156.4 M182,252.9 H180.6 M126,265.7 H127.4 M151.7,265.7 H150.3 M155,265.7 H156.4 M182,265.7 H180.6 M126,278.8 H127.4 M151.7,278.8 H150.3 M155,278.8 H156.4 M182,278.8 H180.6 M126,328.6 H129.5 M151.7,328.6 H148 M126,353.6 H128 M151.7,356 H149.5 M166.7,306.5 V321.5 M154.8,329.6 H158 M182,329.6 H176 M154.8,345.4 H162.6 M182,348.3 H172.5 M185,258.4 H186.8 M231.4,258.4 H229.6 M185,278.8 H186.8 M231.4,278.8 H229.6 M185,299.3 H186.8 M231.4,299.3 H229.6 M185,320 H186.8 M231.4,320 H229.6 M185,341 H186.8 M231.4,341 H229.6 M197.8,365.5 V361.5 M218.9,365.5 V361.5 " stroke="#4c4c4c" stroke-width="4.70" fill="none" stroke-linejoin="round" stroke-linecap="round"/>
<path d="M67,241.3 H227 Q233,241.3 233,247.3 V360.5 Q233,366.5 227,366.5 H67 Q61,366.5 61,360.5 V247.3 Q61,241.3 67,241.3 Z M87.8,241.3 V366.5 M124.4,241.3 V366.5 M183.5,241.3 V366.5 M153.3,241.3 V286.8 L148.6,304.5 L153.3,324 V366.5 M87.8,276.2 H124.4 M87.8,305.2 H183.5 " stroke="#fff" stroke-width="2.50" fill="none" stroke-linejoin="round" stroke-linecap="round"/>
<path d="M62.5,248.4 H68.3 M86.3,248.4 H81.2 M62.5,257.45 H68.3 M86.3,257.45 H81.2 M62.5,266.5 H68.3 M86.3,266.5 H81.2 M62.5,275.55 H68.3 M86.3,275.55 H81.2 M62.5,284.6 H68.3 M86.3,284.6 H81.2 M62.5,293.65 H68.3 M86.3,293.65 H81.2 M62.5,302.7 H68.3 M86.3,302.7 H81.2 M62.5,311.75 H68.3 M86.3,311.75 H81.2 M62.5,320.8 H68.3 M86.3,320.8 H81.2 M62.5,334 H68.3 M86.3,334 H81.2 M62.5,344.5 H68.3 M86.3,344.5 H81.2 M75,365.5 V358.5 M89.4,259.7 H91.6 M122.8,259.7 H120.6 M89.4,292 H91.6 M122.8,292 H120.6 M105.7,274.6 V271.8 M105.7,303.6 V302.3 M89.4,313.2 H91.2 M122.8,313.2 H121 M89.4,325.7 H91.2 M122.8,325.7 H121 M89.4,338.8 H91.2 M122.8,338.8 H121 M89.4,352 H91.2 M122.8,352 H121 M126,252.9 H127.4 M151.7,252.9 H150.3 M155,252.9 H156.4 M182,252.9 H180.6 M126,265.7 H127.4 M151.7,265.7 H150.3 M155,265.7 H156.4 M182,265.7 H180.6 M126,278.8 H127.4 M151.7,278.8 H150.3 M155,278.8 H156.4 M182,278.8 H180.6 M126,328.6 H129.5 M151.7,328.6 H148 M126,353.6 H128 M151.7,356 H149.5 M166.7,306.5 V321.5 M154.8,329.6 H158 M182,329.6 H176 M154.8,345.4 H162.6 M182,348.3 H172.5 M185,258.4 H186.8 M231.4,258.4 H229.6 M185,278.8 H186.8 M231.4,278.8 H229.6 M185,299.3 H186.8 M231.4,299.3 H229.6 M185,320 H186.8 M231.4,320 H229.6 M185,341 H186.8 M231.4,341 H229.6 M197.8,365.5 V361.5 M218.9,365.5 V361.5 " stroke="#fff" stroke-width="3.10" fill="none" stroke-linejoin="round" stroke-linecap="round"/>
<rect x="92.7" y="230.8" width="46.7" height="9.0" rx="2.5" fill="#fff" stroke="#4c4c4c" stroke-width="0.9"/>
<text x="109.7" y="237.3" font-size="5.6" text-anchor="middle" fill="#555" font-family='"Liberation Sans", sans-serif' font-weight="bold" textLength="28.0" lengthAdjust="spacingAndGlyphs">modelcollect</text>
<path d="M124.8,235.6 L127.2,235.6" stroke="#555" stroke-width="1.0" fill="none"/>
<circle cx="132.2" cy="235.6" r="3.7" fill="#fff" stroke="#222" stroke-width="1.2"/>
<text x="132.2" y="237.70000000000002" font-size="5.8" text-anchor="middle" fill="#222" font-family='"Liberation Sans", sans-serif' font-weight="bold" >C</text>
<text x="144" y="235.4" font-size="15.4" text-anchor="start" fill="#111" font-family='"Liberation Sans", sans-serif' font-weight="normal" textLength="9.6" lengthAdjust="spacingAndGlyphs">C</text>
<text x="167.2" y="235.4" font-size="15.4" text-anchor="start" fill="#111" font-family='"Liberation Sans", sans-serif' font-weight="normal" textLength="8.2" lengthAdjust="spacingAndGlyphs">2</text>
<text x="160.2" y="238.5" font-size="24.5" text-anchor="middle" fill="#3a3a3a" font-family='"Liberation Sans", sans-serif' font-weight="normal" >×</text>
<text x="84.0" y="246.9" font-size="4.6" text-anchor="middle" fill="#222" font-family='"Liberation Sans", sans-serif' font-weight="bold" letter-spacing="-0.4">14</text>
<text x="120.5" y="246.9" font-size="4.6" text-anchor="middle" fill="#222" font-family='"Liberation Sans", sans-serif' font-weight="bold" letter-spacing="-0.4">13</text>
<text x="120.5" y="281.9" font-size="4.6" text-anchor="middle" fill="#222" font-family='"Liberation Sans", sans-serif' font-weight="bold" letter-spacing="-0.4">12</text>
<text x="84.5" y="306.4" font-size="4.6" text-anchor="middle" fill="#222" font-family='"Liberation Sans", sans-serif' font-weight="bold" letter-spacing="-0.4">18</text>
<text x="84.5" y="329.4" font-size="4.6" text-anchor="middle" fill="#222" font-family='"Liberation Sans", sans-serif' font-weight="bold" letter-spacing="-0.4">18</text>
<text x="69.0" y="364.9" font-size="4.6" text-anchor="middle" fill="#222" font-family='"Liberation Sans", sans-serif' font-weight="bold" letter-spacing="-0.4">17</text>
<text x="120.0" y="364.4" font-size="4.6" text-anchor="middle" fill="#222" font-family='"Liberation Sans", sans-serif' font-weight="bold" letter-spacing="-0.4">19</text>
<text x="128.0" y="364.4" font-size="4.6" text-anchor="middle" fill="#222" font-family='"Liberation Sans", sans-serif' font-weight="bold" letter-spacing="-0.4">10</text>
<text x="128.0" y="302.9" font-size="4.6" text-anchor="middle" fill="#222" font-family='"Liberation Sans", sans-serif' font-weight="bold" letter-spacing="-0.4">8</text>
<text x="128.0" y="311.4" font-size="4.6" text-anchor="middle" fill="#222" font-family='"Liberation Sans", sans-serif' font-weight="bold" letter-spacing="-0.4">9</text>
<text x="178.0" y="302.9" font-size="4.6" text-anchor="middle" fill="#222" font-family='"Liberation Sans", sans-serif' font-weight="bold" letter-spacing="-0.4">6</text>
<text x="187.5" y="246.9" font-size="4.6" text-anchor="middle" fill="#222" font-family='"Liberation Sans", sans-serif' font-weight="bold" letter-spacing="-0.4">1</text>
<text x="180.0" y="327.4" font-size="4.6" text-anchor="middle" fill="#222" font-family='"Liberation Sans", sans-serif' font-weight="bold" letter-spacing="-0.4">3</text>
<text x="177.5" y="364.4" font-size="4.6" text-anchor="middle" fill="#222" font-family='"Liberation Sans", sans-serif' font-weight="bold" letter-spacing="-0.4">11</text>
<text x="187.3" y="332.4" font-size="4.6" text-anchor="middle" fill="#222" font-family='"Liberation Sans", sans-serif' font-weight="bold" letter-spacing="-0.4">2</text>
<text x="228.0" y="332.4" font-size="4.6" text-anchor="middle" fill="#222" font-family='"Liberation Sans", sans-serif' font-weight="bold" letter-spacing="-0.4">5</text>
<text x="228.0" y="363.4" font-size="4.6" text-anchor="middle" fill="#222" font-family='"Liberation Sans", sans-serif' font-weight="bold" letter-spacing="-0.4">4</text>
<ellipse cx="74.8" cy="252.6" rx="2.7" ry="1.5" fill="#ddd" stroke="#555" stroke-width="0.7"/>
<ellipse cx="74.8" cy="261.6" rx="2.7" ry="1.5" fill="#ddd" stroke="#555" stroke-width="0.7"/>
<ellipse cx="74.8" cy="270.7" rx="2.7" ry="1.5" fill="#ddd" stroke="#555" stroke-width="0.7"/>
<ellipse cx="74.8" cy="279.8" rx="2.7" ry="1.5" fill="#ddd" stroke="#555" stroke-width="0.7"/>
<ellipse cx="74.8" cy="288.8" rx="2.7" ry="1.5" fill="#ddd" stroke="#555" stroke-width="0.7"/>
<ellipse cx="74.8" cy="297.9" rx="2.7" ry="1.5" fill="#ddd" stroke="#555" stroke-width="0.7"/>
<ellipse cx="74.8" cy="306.9" rx="2.7" ry="1.5" fill="#ddd" stroke="#555" stroke-width="0.7"/>
<ellipse cx="74.8" cy="315.9" rx="2.7" ry="1.5" fill="#ddd" stroke="#555" stroke-width="0.7"/>
<ellipse cx="74.8" cy="328.6" rx="2.7" ry="1.5" fill="#ddd" stroke="#555" stroke-width="0.7"/>
<circle cx="74.6" cy="344.5" r="1.0" fill="#555" stroke="#333" stroke-width="0.8"/>
<path d="M72,357.4 V355 Q72,352.4 74.9,352.4 Q77.8,352.4 77.8,355 V357.4 Z" fill="#fff" stroke="#4c4c4c" stroke-width="0.7" />
<circle cx="105.7" cy="259.7" r="7.1" fill="#fff" stroke="#2a2a2a" stroke-width="2.0" stroke-dasharray="1.35 0.88"/>
<circle cx="105.7" cy="259.7" r="5.9" fill="#fff" stroke="#2a2a2a" stroke-width="1.6"/>
<circle cx="105.7" cy="259.7" r="3.4" fill="#fff" stroke="#333" stroke-width="0.8"/>
<circle cx="105.7" cy="259.7" r="2.0" fill="#fff" stroke="#666" stroke-width="0.5"/>
<circle cx="105.7" cy="292" r="7.1" fill="#fff" stroke="#2a2a2a" stroke-width="2.0" stroke-dasharray="1.35 0.88"/>
<circle cx="105.7" cy="292.0" r="5.9" fill="#fff" stroke="#2a2a2a" stroke-width="1.6"/>
<circle cx="105.7" cy="292.0" r="3.4" fill="#fff" stroke="#333" stroke-width="0.8"/>
<circle cx="105.7" cy="292.0" r="2.0" fill="#fff" stroke="#666" stroke-width="0.5"/>
<rect x="96.0" y="310.3" width="20.2" height="5.8" rx="0" fill="#fff" stroke="#4c4c4c" stroke-width="0.7"/>
<path d="M93.0,313.2 L96.0,313.2" stroke="#4c4c4c" stroke-width="0.7" fill="none"/>
<path d="M116.2,313.2 L119.2,313.2" stroke="#4c4c4c" stroke-width="0.7" fill="none"/>
<path d="M98,313.2 H114.5" stroke="#444" stroke-width="1.0" stroke-dasharray="2.5 1.2 0.8 1.2"/>
<rect x="103.0" y="311.7" width="6.5" height="3.0" rx="0" fill="#ddd" stroke="#555" stroke-width="0.5"/>
<rect x="96.0" y="322.8" width="20.2" height="5.8" rx="0" fill="#fff" stroke="#4c4c4c" stroke-width="0.7"/>
<path d="M93.0,325.7 L96.0,325.7" stroke="#4c4c4c" stroke-width="0.7" fill="none"/>
<path d="M116.2,325.7 L119.2,325.7" stroke="#4c4c4c" stroke-width="0.7" fill="none"/>
<path d="M98,325.7 H114.5" stroke="#444" stroke-width="1.0" stroke-dasharray="2.5 1.2 0.8 1.2"/>
<rect x="103.0" y="324.2" width="6.5" height="3.0" rx="0" fill="#ddd" stroke="#555" stroke-width="0.5"/>
<rect x="96.0" y="335.9" width="20.2" height="5.8" rx="0" fill="#fff" stroke="#4c4c4c" stroke-width="0.7"/>
<path d="M93.0,338.8 L96.0,338.8" stroke="#4c4c4c" stroke-width="0.7" fill="none"/>
<path d="M116.2,338.8 L119.2,338.8" stroke="#4c4c4c" stroke-width="0.7" fill="none"/>
<path d="M98,338.8 H114.5" stroke="#444" stroke-width="1.0" stroke-dasharray="2.5 1.2 0.8 1.2"/>
<rect x="103.0" y="337.3" width="6.5" height="3.0" rx="0" fill="#ddd" stroke="#555" stroke-width="0.5"/>
<rect x="96.0" y="349.1" width="20.2" height="5.8" rx="0" fill="#fff" stroke="#4c4c4c" stroke-width="0.7"/>
<path d="M93.0,352.0 L96.0,352.0" stroke="#4c4c4c" stroke-width="0.7" fill="none"/>
<path d="M116.2,352.0 L119.2,352.0" stroke="#4c4c4c" stroke-width="0.7" fill="none"/>
<path d="M98,352 H114.5" stroke="#444" stroke-width="1.0" stroke-dasharray="2.5 1.2 0.8 1.2"/>
<rect x="103.0" y="350.5" width="6.5" height="3.0" rx="0" fill="#ddd" stroke="#555" stroke-width="0.5"/>
<path d="M131.5,252.9 H146.1" stroke="#222" stroke-width="2.6" stroke-dasharray="1.0 0.55"/>
<path d="M160,252.9 H174.6" stroke="#222" stroke-width="2.6" stroke-dasharray="1.0 0.55"/>
<path d="M131.5,265.7 H146.1" stroke="#222" stroke-width="2.6" stroke-dasharray="1.0 0.55"/>
<path d="M160,265.7 H174.6" stroke="#222" stroke-width="2.6" stroke-dasharray="1.0 0.55"/>
<path d="M131.5,278.8 H146.1" stroke="#222" stroke-width="2.6" stroke-dasharray="1.0 0.55"/>
<path d="M160,278.8 H174.6" stroke="#222" stroke-width="2.6" stroke-dasharray="1.0 0.55"/>
<rect x="133.0" y="325.7" width="11.6" height="6.7" rx="1.2" fill="#fff" stroke="#444" stroke-width="0.8"/>
<path d="M135.3,325.7 L135.3,332.4" stroke="#4c4c4c" stroke-width="0.6" fill="none"/>
<path d="M142.3,325.7 L142.3,332.4" stroke="#4c4c4c" stroke-width="0.6" fill="none"/>
<rect x="137.3" y="325.2" width="3.0" height="1.6" rx="0" fill="#555" stroke="#444" stroke-width="0.4"/>
<path d="M134.4,349.7 V354.5 M144,349.7 V354.5" fill="none" stroke="#333" stroke-width="0.9" />
<path d="M130.6,353.6 H146.9 L145,357 Q138.7,360.5 132.5,357 Z" fill="#888" stroke="#222" stroke-width="0.9" />
<ellipse cx="138.7" cy="356.3" rx="2.6" ry="1.5" fill="#fff" stroke="#222" stroke-width="0.7"/>
<circle cx="166.7" cy="329.6" r="5.6" fill="#bbb" stroke="#333" stroke-width="1.2"/>
<circle cx="166.7" cy="329.6" r="3.6" fill="#fff" stroke="#333" stroke-width="1.0"/>
<path d="M168.8,341 Q166,343 166.3,347 V353 Q166.3,357.5 164.6,359.3 M170.2,341.3 Q167.6,343.5 167.8,347 V353 Q167.8,358 165.6,360" fill="none" stroke="#4c4c4c" stroke-width="0.7" />
<path d="M166.2,349.5 L168.0,349.5" stroke="#333" stroke-width="1.6" fill="none"/>
<circle cx="197.8" cy="258.4" r="6.7" fill="#fff" stroke="#1a1a1a" stroke-width="1.9"/>
<circle cx="197.8" cy="258.4" r="4.8" fill="#fff" stroke="#222" stroke-width="0.8"/>
<circle cx="197.8" cy="258.4" r="3.3" fill="#fff" stroke="#222" stroke-width="1.1"/>
<circle cx="197.8" cy="258.4" r="1.5" fill="#333" stroke="#111" stroke-width="0.8"/>
<circle cx="218.5" cy="258.4" r="6.7" fill="#fff" stroke="#1a1a1a" stroke-width="1.9"/>
<circle cx="218.5" cy="258.4" r="4.8" fill="#fff" stroke="#222" stroke-width="0.8"/>
<circle cx="218.5" cy="258.4" r="3.3" fill="#fff" stroke="#222" stroke-width="1.1"/>
<circle cx="218.5" cy="258.4" r="1.5" fill="#333" stroke="#111" stroke-width="0.8"/>
<circle cx="197.8" cy="278.8" r="6.7" fill="#fff" stroke="#1a1a1a" stroke-width="1.9"/>
<circle cx="197.8" cy="278.8" r="4.8" fill="#fff" stroke="#222" stroke-width="0.8"/>
<circle cx="197.8" cy="278.8" r="3.3" fill="#fff" stroke="#222" stroke-width="1.1"/>
<circle cx="197.8" cy="278.8" r="1.5" fill="#333" stroke="#111" stroke-width="0.8"/>
<circle cx="218.5" cy="278.8" r="6.7" fill="#fff" stroke="#1a1a1a" stroke-width="1.9"/>
<circle cx="218.5" cy="278.8" r="4.8" fill="#fff" stroke="#222" stroke-width="0.8"/>
<circle cx="218.5" cy="278.8" r="3.3" fill="#fff" stroke="#222" stroke-width="1.1"/>
<circle cx="218.5" cy="278.8" r="1.5" fill="#333" stroke="#111" stroke-width="0.8"/>
<circle cx="197.8" cy="299.3" r="6.7" fill="#fff" stroke="#1a1a1a" stroke-width="1.9"/>
<circle cx="197.8" cy="299.3" r="4.8" fill="#fff" stroke="#222" stroke-width="0.8"/>
<circle cx="197.8" cy="299.3" r="3.3" fill="#fff" stroke="#222" stroke-width="1.1"/>
<circle cx="197.8" cy="299.3" r="1.5" fill="#333" stroke="#111" stroke-width="0.8"/>
<circle cx="218.5" cy="299.3" r="6.7" fill="#fff" stroke="#1a1a1a" stroke-width="1.9"/>
<circle cx="218.5" cy="299.3" r="4.8" fill="#fff" stroke="#222" stroke-width="0.8"/>
<circle cx="218.5" cy="299.3" r="3.3" fill="#fff" stroke="#222" stroke-width="1.1"/>
<circle cx="218.5" cy="299.3" r="1.5" fill="#333" stroke="#111" stroke-width="0.8"/>
<circle cx="197.8" cy="320.0" r="6.7" fill="#fff" stroke="#1a1a1a" stroke-width="1.9"/>
<circle cx="197.8" cy="320.0" r="4.8" fill="#fff" stroke="#222" stroke-width="0.8"/>
<circle cx="197.8" cy="320.0" r="3.3" fill="#fff" stroke="#222" stroke-width="1.1"/>
<circle cx="197.8" cy="320.0" r="1.5" fill="#333" stroke="#111" stroke-width="0.8"/>
<circle cx="218.5" cy="320.0" r="6.7" fill="#fff" stroke="#1a1a1a" stroke-width="1.9"/>
<circle cx="218.5" cy="320.0" r="4.8" fill="#fff" stroke="#222" stroke-width="0.8"/>
<circle cx="218.5" cy="320.0" r="3.3" fill="#fff" stroke="#222" stroke-width="1.1"/>
<circle cx="218.5" cy="320.0" r="1.5" fill="#333" stroke="#111" stroke-width="0.8"/>
<circle cx="197.8" cy="341.0" r="5.2" fill="#1e1e1e" stroke="#111" stroke-width="0.8"/>
<circle cx="200.6" cy="342.6" r="0.8" fill="#eee" stroke="#eee" stroke-width="0.3"/>
<circle cx="197.8" cy="344.2" r="0.8" fill="#eee" stroke="#eee" stroke-width="0.3"/>
<circle cx="195.0" cy="342.6" r="0.8" fill="#eee" stroke="#eee" stroke-width="0.3"/>
<circle cx="195.0" cy="339.4" r="0.8" fill="#eee" stroke="#eee" stroke-width="0.3"/>
<circle cx="197.8" cy="337.8" r="0.8" fill="#eee" stroke="#eee" stroke-width="0.3"/>
<circle cx="200.6" cy="339.4" r="0.8" fill="#eee" stroke="#eee" stroke-width="0.3"/>
<circle cx="197.8" cy="341.0" r="1.2" fill="#ddd" stroke="#ddd" stroke-width="0.3"/>
<circle cx="218.5" cy="341.0" r="5.2" fill="#1e1e1e" stroke="#111" stroke-width="0.8"/>
<circle cx="221.3" cy="342.6" r="0.8" fill="#eee" stroke="#eee" stroke-width="0.3"/>
<circle cx="218.5" cy="344.2" r="0.8" fill="#eee" stroke="#eee" stroke-width="0.3"/>
<circle cx="215.7" cy="342.6" r="0.8" fill="#eee" stroke="#eee" stroke-width="0.3"/>
<circle cx="215.7" cy="339.4" r="0.8" fill="#eee" stroke="#eee" stroke-width="0.3"/>
<circle cx="218.5" cy="337.8" r="0.8" fill="#eee" stroke="#eee" stroke-width="0.3"/>
<circle cx="221.3" cy="339.4" r="0.8" fill="#eee" stroke="#eee" stroke-width="0.3"/>
<circle cx="218.5" cy="341.0" r="1.2" fill="#ddd" stroke="#ddd" stroke-width="0.3"/>
<path d="M195.8,353.6 H199.8 V357 Q199.8,359.5 197.8,359.5 Q195.8,359.5 195.8,357 Z" fill="#fff" stroke="#333" stroke-width="0.8" />
<path d="M195.8,355.0 L199.8,355.0" stroke="#333" stroke-width="0.6" fill="none"/>
<path d="M216.9,353.6 H220.9 V357 Q220.9,359.5 218.9,359.5 Q216.9,359.5 216.9,357 Z" fill="#fff" stroke="#333" stroke-width="0.8" />
<path d="M216.9,355.0 L220.9,355.0" stroke="#333" stroke-width="0.6" fill="none"/>
<rect x="311.5" y="261.2" width="68.8" height="17" rx="3.5" fill="#fff" stroke="#3a3a3a" stroke-width="0.9"/>
<path d="M290,366.3 V283 Q290,278 295,278 H396.8 Q401.8,278 401.8,283 V366.3 M290,319.2 H311.3 M401.8,319.2 H380.7 " stroke="#3a3a3a" stroke-width="6.35" fill="none" stroke-linejoin="round" stroke-linecap="round"/>
<path d="M345.8,280 V284.2 M345.8,366.3 V354 " stroke="#3a3a3a" stroke-width="6.95" fill="none" stroke-linejoin="round" stroke-linecap="round"/>
<path d="M290,366.3 V283 Q290,278 295,278 H396.8 Q401.8,278 401.8,283 V366.3 M290,319.2 H311.3 M401.8,319.2 H380.7 " stroke="#fff" stroke-width="4.45" fill="none" stroke-linejoin="round" stroke-linecap="round"/>
<path d="M345.8,280 V284.2 M345.8,366.3 V354 " stroke="#fff" stroke-width="5.05" fill="none" stroke-linejoin="round" stroke-linecap="round"/>
<rect x="285" y="366.2" width="125" height="5" fill="#fff"/>
<path d="M292.7,364.7 H342.3 M349.3,364.7 H399.1" fill="none" stroke="#3a3a3a" stroke-width="0.95" />
<path d="M360.0,267.5 L363.2,267.5" stroke="#333" stroke-width="1.3" fill="none"/>
<circle cx="370.6" cy="267.3" r="5.7" fill="#fff" stroke="#222" stroke-width="1.3"/>
<text x="371.0" y="271.2" font-size="10.5" text-anchor="middle" fill="#222" font-family='"Liberation Sans", sans-serif' font-weight="normal" >L</text>
<rect x="294.5" y="323.5" width="4" height="4" fill="#fff" stroke="#4c4c4c" stroke-width="0.6"/>
<path d="M296.7,324.1 v2.8" stroke="#4c4c4c" stroke-width="0.6"/>
<circle cx="346.0" cy="319.6" r="29.8" fill="#fff" stroke="#444" stroke-width="0.8"/>
<circle cx="346" cy="319.6" r="28.9" fill="none" stroke="#444" stroke-width="1.4" stroke-dasharray="0.7 5.35"/>
<path d="M361.2,319.6 L373.3,319.6" stroke="#333" stroke-width="1.7" fill="none"/>
<path d="M360.0,325.4 L371.2,330.0" stroke="#333" stroke-width="1.7" fill="none"/>
<path d="M356.7,330.3 L365.3,338.9" stroke="#333" stroke-width="1.7" fill="none"/>
<path d="M351.8,333.6 L356.4,344.8" stroke="#333" stroke-width="1.7" fill="none"/>
<path d="M346.0,334.8 L346.0,346.9" stroke="#333" stroke-width="1.7" fill="none"/>
<path d="M340.2,333.6 L335.6,344.8" stroke="#333" stroke-width="1.7" fill="none"/>
<path d="M335.3,330.3 L326.7,338.9" stroke="#333" stroke-width="1.7" fill="none"/>
<path d="M332.0,325.4 L320.8,330.0" stroke="#333" stroke-width="1.7" fill="none"/>
<path d="M330.8,319.6 L318.7,319.6" stroke="#333" stroke-width="1.7" fill="none"/>
<path d="M332.0,313.8 L320.8,309.2" stroke="#333" stroke-width="1.7" fill="none"/>
<path d="M335.3,308.9 L326.7,300.3" stroke="#333" stroke-width="1.7" fill="none"/>
<path d="M340.2,305.6 L335.6,294.4" stroke="#333" stroke-width="1.7" fill="none"/>
<path d="M346.0,304.4 L346.0,292.3" stroke="#333" stroke-width="1.7" fill="none"/>
<path d="M351.8,305.6 L356.4,294.4" stroke="#333" stroke-width="1.7" fill="none"/>
<path d="M356.7,308.9 L365.3,300.3" stroke="#333" stroke-width="1.7" fill="none"/>
<path d="M360.0,313.8 L371.2,309.2" stroke="#333" stroke-width="1.7" fill="none"/>
<circle cx="346.0" cy="319.6" r="14.2" fill="#fff" stroke="#333" stroke-width="1.1"/>
<rect x="488.2" y="241.1" width="51.3" height="8.5" rx="1.5" fill="#fff" stroke="#333" stroke-width="0.7"/>
<text x="513.8" y="247.2" font-size="6.4" text-anchor="middle" fill="#111" font-family='"Liberation Sans", sans-serif' font-weight="bold" textLength="48.6" lengthAdjust="spacingAndGlyphs">E75/E55 TRACK</text>
<path d="M462.9,250 H561.2 Q567.2,250 567.2,256 V350.2 Q567.2,356.2 561.2,356.2 H462.9 Q456.9,356.2 456.9,350.2 V256 Q456.9,250 462.9,250 Z M484.5,250 V356.2 M512.1,250 V356.2 M539.7,250 V356.2 " stroke="#4c4c4c" stroke-width="4.10" fill="none" stroke-linejoin="round" stroke-linecap="round"/>
<path d="M462.9,250 H561.2 Q567.2,250 567.2,256 V350.2 Q567.2,356.2 561.2,356.2 H462.9 Q456.9,356.2 456.9,350.2 V256 Q456.9,250 462.9,250 Z M484.5,250 V356.2 M512.1,250 V356.2 M539.7,250 V356.2 " stroke="#fff" stroke-width="2.50" fill="none" stroke-linejoin="round" stroke-linecap="round"/>
<rect x="459.3" y="253.9" width="23.5" height="3.5" rx="1.75" fill="#fff" stroke="#777" stroke-width="0.7"/>
<rect x="541.4" y="253.9" width="23.5" height="3.5" rx="1.75" fill="#fff" stroke="#777" stroke-width="0.7"/>
<rect x="459.3" y="260.8" width="23.5" height="3.5" rx="1.75" fill="#fff" stroke="#777" stroke-width="0.7"/>
<rect x="541.4" y="260.8" width="23.5" height="3.5" rx="1.75" fill="#fff" stroke="#777" stroke-width="0.7"/>
<rect x="459.3" y="267.6" width="23.5" height="3.5" rx="1.75" fill="#fff" stroke="#777" stroke-width="0.7"/>
<rect x="541.4" y="267.6" width="23.5" height="3.5" rx="1.75" fill="#fff" stroke="#777" stroke-width="0.7"/>
<rect x="459.3" y="274.5" width="23.5" height="3.5" rx="1.75" fill="#fff" stroke="#777" stroke-width="0.7"/>
<rect x="541.4" y="274.5" width="23.5" height="3.5" rx="1.75" fill="#fff" stroke="#777" stroke-width="0.7"/>
<rect x="459.3" y="281.3" width="23.5" height="3.5" rx="1.75" fill="#fff" stroke="#777" stroke-width="0.7"/>
<rect x="541.4" y="281.3" width="23.5" height="3.5" rx="1.75" fill="#fff" stroke="#777" stroke-width="0.7"/>
<rect x="459.3" y="288.2" width="23.5" height="3.5" rx="1.75" fill="#fff" stroke="#777" stroke-width="0.7"/>
<rect x="541.4" y="288.2" width="23.5" height="3.5" rx="1.75" fill="#fff" stroke="#777" stroke-width="0.7"/>
<rect x="459.3" y="295.0" width="23.5" height="3.5" rx="1.75" fill="#fff" stroke="#777" stroke-width="0.7"/>
<rect x="541.4" y="295.0" width="23.5" height="3.5" rx="1.75" fill="#fff" stroke="#777" stroke-width="0.7"/>
<rect x="459.3" y="301.9" width="23.5" height="3.5" rx="1.75" fill="#fff" stroke="#777" stroke-width="0.7"/>
<rect x="541.4" y="301.9" width="23.5" height="3.5" rx="1.75" fill="#fff" stroke="#777" stroke-width="0.7"/>
<rect x="459.3" y="308.8" width="23.5" height="3.5" rx="1.75" fill="#fff" stroke="#777" stroke-width="0.7"/>
<rect x="541.4" y="308.8" width="23.5" height="3.5" rx="1.75" fill="#fff" stroke="#777" stroke-width="0.7"/>
<rect x="459.3" y="315.6" width="23.5" height="3.5" rx="1.75" fill="#fff" stroke="#777" stroke-width="0.7"/>
<rect x="541.4" y="315.6" width="23.5" height="3.5" rx="1.75" fill="#fff" stroke="#777" stroke-width="0.7"/>
<rect x="459.3" y="322.4" width="23.5" height="3.5" rx="1.75" fill="#fff" stroke="#777" stroke-width="0.7"/>
<rect x="541.4" y="322.4" width="23.5" height="3.5" rx="1.75" fill="#fff" stroke="#777" stroke-width="0.7"/>
<rect x="459.3" y="329.3" width="23.5" height="3.5" rx="1.75" fill="#fff" stroke="#777" stroke-width="0.7"/>
<rect x="541.4" y="329.3" width="23.5" height="3.5" rx="1.75" fill="#fff" stroke="#777" stroke-width="0.7"/>
<rect x="459.3" y="336.1" width="23.5" height="3.5" rx="1.75" fill="#fff" stroke="#777" stroke-width="0.7"/>
<rect x="541.4" y="336.1" width="23.5" height="3.5" rx="1.75" fill="#fff" stroke="#777" stroke-width="0.7"/>
<rect x="459.3" y="343.0" width="23.5" height="3.5" rx="1.75" fill="#fff" stroke="#777" stroke-width="0.7"/>
<rect x="541.4" y="343.0" width="23.5" height="3.5" rx="1.75" fill="#fff" stroke="#777" stroke-width="0.7"/>
<rect x="459.3" y="349.8" width="23.5" height="3.5" rx="1.75" fill="#fff" stroke="#777" stroke-width="0.7"/>
<rect x="541.4" y="349.8" width="23.5" height="3.5" rx="1.75" fill="#fff" stroke="#777" stroke-width="0.7"/>
<path d="M464.2,259.15 H479.2" stroke="#1e1e1e" stroke-width="2.4" stroke-dasharray="1.7 0.6"/>
<path d="M465.0,259.15 H478.4" stroke="#999" stroke-width="0.5"/>
<path d="M545.4,259.15 H560.4" stroke="#1e1e1e" stroke-width="2.4" stroke-dasharray="1.7 0.6"/>
<path d="M546.1999999999999,259.15 H559.6" stroke="#999" stroke-width="0.5"/>
<path d="M464.2,266.0 H479.2" stroke="#1e1e1e" stroke-width="2.4" stroke-dasharray="1.7 0.6"/>
<path d="M465.0,266.0 H478.4" stroke="#999" stroke-width="0.5"/>
<path d="M545.4,266.0 H560.4" stroke="#1e1e1e" stroke-width="2.4" stroke-dasharray="1.7 0.6"/>
<path d="M546.1999999999999,266.0 H559.6" stroke="#999" stroke-width="0.5"/>
<path d="M464.2,272.84999999999997 H479.2" stroke="#1e1e1e" stroke-width="2.4" stroke-dasharray="1.7 0.6"/>
<path d="M465.0,272.84999999999997 H478.4" stroke="#999" stroke-width="0.5"/>
<path d="M545.4,272.84999999999997 H560.4" stroke="#1e1e1e" stroke-width="2.4" stroke-dasharray="1.7 0.6"/>
<path d="M546.1999999999999,272.84999999999997 H559.6" stroke="#999" stroke-width="0.5"/>
<path d="M464.2,279.7 H479.2" stroke="#1e1e1e" stroke-width="2.4" stroke-dasharray="1.7 0.6"/>
<path d="M465.0,279.7 H478.4" stroke="#999" stroke-width="0.5"/>
<path d="M545.4,279.7 H560.4" stroke="#1e1e1e" stroke-width="2.4" stroke-dasharray="1.7 0.6"/>
<path d="M546.1999999999999,279.7 H559.6" stroke="#999" stroke-width="0.5"/>
<path d="M464.2,286.54999999999995 H479.2" stroke="#1e1e1e" stroke-width="2.4" stroke-dasharray="1.7 0.6"/>
<path d="M465.0,286.54999999999995 H478.4" stroke="#999" stroke-width="0.5"/>
<path d="M545.4,286.54999999999995 H560.4" stroke="#1e1e1e" stroke-width="2.4" stroke-dasharray="1.7 0.6"/>
<path d="M546.1999999999999,286.54999999999995 H559.6" stroke="#999" stroke-width="0.5"/>
<path d="M464.2,293.4 H479.2" stroke="#1e1e1e" stroke-width="2.4" stroke-dasharray="1.7 0.6"/>
<path d="M465.0,293.4 H478.4" stroke="#999" stroke-width="0.5"/>
<path d="M545.4,293.4 H560.4" stroke="#1e1e1e" stroke-width="2.4" stroke-dasharray="1.7 0.6"/>
<path d="M546.1999999999999,293.4 H559.6" stroke="#999" stroke-width="0.5"/>
<path d="M464.2,300.25 H479.2" stroke="#1e1e1e" stroke-width="2.4" stroke-dasharray="1.7 0.6"/>
<path d="M465.0,300.25 H478.4" stroke="#999" stroke-width="0.5"/>
<path d="M545.4,300.25 H560.4" stroke="#1e1e1e" stroke-width="2.4" stroke-dasharray="1.7 0.6"/>
<path d="M546.1999999999999,300.25 H559.6" stroke="#999" stroke-width="0.5"/>
<path d="M464.2,307.09999999999997 H479.2" stroke="#1e1e1e" stroke-width="2.4" stroke-dasharray="1.7 0.6"/>
<path d="M465.0,307.09999999999997 H478.4" stroke="#999" stroke-width="0.5"/>
<path d="M545.4,307.09999999999997 H560.4" stroke="#1e1e1e" stroke-width="2.4" stroke-dasharray="1.7 0.6"/>
<path d="M546.1999999999999,307.09999999999997 H559.6" stroke="#999" stroke-width="0.5"/>
<path d="M464.2,313.95 H479.2" stroke="#1e1e1e" stroke-width="2.4" stroke-dasharray="1.7 0.6"/>
<path d="M465.0,313.95 H478.4" stroke="#999" stroke-width="0.5"/>
<path d="M545.4,313.95 H560.4" stroke="#1e1e1e" stroke-width="2.4" stroke-dasharray="1.7 0.6"/>
<path d="M546.1999999999999,313.95 H559.6" stroke="#999" stroke-width="0.5"/>
<path d="M464.2,320.79999999999995 H479.2" stroke="#1e1e1e" stroke-width="2.4" stroke-dasharray="1.7 0.6"/>
<path d="M465.0,320.79999999999995 H478.4" stroke="#999" stroke-width="0.5"/>
<path d="M545.4,320.79999999999995 H560.4" stroke="#1e1e1e" stroke-width="2.4" stroke-dasharray="1.7 0.6"/>
<path d="M546.1999999999999,320.79999999999995 H559.6" stroke="#999" stroke-width="0.5"/>
<path d="M464.2,327.65 H479.2" stroke="#1e1e1e" stroke-width="2.4" stroke-dasharray="1.7 0.6"/>
<path d="M465.0,327.65 H478.4" stroke="#999" stroke-width="0.5"/>
<path d="M545.4,327.65 H560.4" stroke="#1e1e1e" stroke-width="2.4" stroke-dasharray="1.7 0.6"/>
<path d="M546.1999999999999,327.65 H559.6" stroke="#999" stroke-width="0.5"/>
<path d="M464.2,334.5 H479.2" stroke="#1e1e1e" stroke-width="2.4" stroke-dasharray="1.7 0.6"/>
<path d="M465.0,334.5 H478.4" stroke="#999" stroke-width="0.5"/>
<path d="M545.4,334.5 H560.4" stroke="#1e1e1e" stroke-width="2.4" stroke-dasharray="1.7 0.6"/>
<path d="M546.1999999999999,334.5 H559.6" stroke="#999" stroke-width="0.5"/>
<path d="M464.2,341.34999999999997 H479.2" stroke="#1e1e1e" stroke-width="2.4" stroke-dasharray="1.7 0.6"/>
<path d="M465.0,341.34999999999997 H478.4" stroke="#999" stroke-width="0.5"/>
<path d="M545.4,341.34999999999997 H560.4" stroke="#1e1e1e" stroke-width="2.4" stroke-dasharray="1.7 0.6"/>
<path d="M546.1999999999999,341.34999999999997 H559.6" stroke="#999" stroke-width="0.5"/>
<path d="M464.2,348.2 H479.2" stroke="#1e1e1e" stroke-width="2.4" stroke-dasharray="1.7 0.6"/>
<path d="M465.0,348.2 H478.4" stroke="#999" stroke-width="0.5"/>
<path d="M545.4,348.2 H560.4" stroke="#1e1e1e" stroke-width="2.4" stroke-dasharray="1.7 0.6"/>
<path d="M546.1999999999999,348.2 H559.6" stroke="#999" stroke-width="0.5"/>
<rect x="486.2" y="263.8" width="5.8" height="4.2" rx="0" fill="#fff" stroke="#4c4c4c" stroke-width="0.85"/>
<rect x="504.9" y="263.8" width="5.5" height="4.2" rx="0" fill="#fff" stroke="#4c4c4c" stroke-width="0.85"/>
<rect x="486.2" y="284.6" width="5.8" height="4.2" rx="0" fill="#fff" stroke="#4c4c4c" stroke-width="0.85"/>
<rect x="504.9" y="284.6" width="5.5" height="4.2" rx="0" fill="#fff" stroke="#4c4c4c" stroke-width="0.85"/>
<rect x="486.2" y="303.0" width="5.8" height="5.2" rx="0" fill="#fff" stroke="#4c4c4c" stroke-width="0.85"/>
<rect x="504.9" y="303.0" width="5.5" height="5.2" rx="0" fill="#fff" stroke="#4c4c4c" stroke-width="0.85"/>
<rect x="486.2" y="320.0" width="5.8" height="6.5" rx="0" fill="#fff" stroke="#4c4c4c" stroke-width="0.85"/>
<rect x="504.9" y="320.0" width="5.5" height="6.5" rx="0" fill="#fff" stroke="#4c4c4c" stroke-width="0.85"/>
<rect x="486.2" y="334.0" width="5.8" height="6.5" rx="0" fill="#fff" stroke="#4c4c4c" stroke-width="0.85"/>
<rect x="504.9" y="334.0" width="5.5" height="6.5" rx="0" fill="#fff" stroke="#4c4c4c" stroke-width="0.85"/>
<rect x="492.0" y="259.7" width="12.9" height="12.4" rx="0" fill="#222" stroke="#111" stroke-width="0.5"/>
<path d="M494.2,259.7 V272.1 M496.4,259.7 V272.1 M498.5,259.7 V272.1 M500.6,259.7 V272.1 M502.7,259.7 V272.1" stroke="#a8a8a8" stroke-width="0.55" stroke-dasharray="0.9 0.8"/>
<rect x="492.0" y="280.8" width="12.9" height="12.0" rx="0" fill="#222" stroke="#111" stroke-width="0.5"/>
<path d="M494.2,280.8 V292.8 M496.4,280.8 V292.8 M498.5,280.8 V292.8 M500.6,280.8 V292.8 M502.7,280.8 V292.8" stroke="#a8a8a8" stroke-width="0.55" stroke-dasharray="0.9 0.8"/>
<rect x="492.0" y="299.4" width="12.9" height="50.2" rx="0" fill="#222" stroke="#111" stroke-width="0.5"/>
<path d="M494.2,299.4 V349.6 M496.4,299.4 V349.6 M498.5,299.4 V349.6 M500.6,299.4 V349.6 M502.7,299.4 V349.6" stroke="#a8a8a8" stroke-width="0.55" stroke-dasharray="0.9 0.8"/>
<rect x="513.8" y="263.8" width="5.6" height="4.2" rx="0" fill="#fff" stroke="#4c4c4c" stroke-width="0.85"/>
<rect x="532.3" y="263.8" width="5.7" height="4.2" rx="0" fill="#fff" stroke="#4c4c4c" stroke-width="0.85"/>
<rect x="513.8" y="284.6" width="5.6" height="4.2" rx="0" fill="#fff" stroke="#4c4c4c" stroke-width="0.85"/>
<rect x="532.3" y="284.6" width="5.7" height="4.2" rx="0" fill="#fff" stroke="#4c4c4c" stroke-width="0.85"/>
<rect x="513.8" y="303.0" width="5.6" height="5.2" rx="0" fill="#fff" stroke="#4c4c4c" stroke-width="0.85"/>
<rect x="532.3" y="303.0" width="5.7" height="5.2" rx="0" fill="#fff" stroke="#4c4c4c" stroke-width="0.85"/>
<rect x="513.8" y="320.0" width="5.6" height="6.5" rx="0" fill="#fff" stroke="#4c4c4c" stroke-width="0.85"/>
<rect x="532.3" y="320.0" width="5.7" height="6.5" rx="0" fill="#fff" stroke="#4c4c4c" stroke-width="0.85"/>
<rect x="513.8" y="334.0" width="5.6" height="6.5" rx="0" fill="#fff" stroke="#4c4c4c" stroke-width="0.85"/>
<rect x="532.3" y="334.0" width="5.7" height="6.5" rx="0" fill="#fff" stroke="#4c4c4c" stroke-width="0.85"/>
<rect x="519.4" y="259.7" width="12.9" height="12.4" rx="0" fill="#222" stroke="#111" stroke-width="0.5"/>
<path d="M521.6,259.7 V272.1 M523.8,259.7 V272.1 M525.9,259.7 V272.1 M528.0,259.7 V272.1 M530.1,259.7 V272.1" stroke="#a8a8a8" stroke-width="0.55" stroke-dasharray="0.9 0.8"/>
<rect x="519.4" y="280.8" width="12.9" height="12.0" rx="0" fill="#222" stroke="#111" stroke-width="0.5"/>
<path d="M521.6,280.8 V292.8 M523.8,280.8 V292.8 M525.9,280.8 V292.8 M528.0,280.8 V292.8 M530.1,280.8 V292.8" stroke="#a8a8a8" stroke-width="0.55" stroke-dasharray="0.9 0.8"/>
<rect x="519.4" y="299.4" width="12.9" height="50.2" rx="0" fill="#222" stroke="#111" stroke-width="0.5"/>
<path d="M521.6,299.4 V349.6 M523.8,299.4 V349.6 M525.9,299.4 V349.6 M528.0,299.4 V349.6 M530.1,299.4 V349.6" stroke="#a8a8a8" stroke-width="0.55" stroke-dasharray="0.9 0.8"/>
<rect x="479.6" y="252.4" width="2.8" height="2.8" fill="#fff" stroke="#4c4c4c" stroke-width="0.6"/>
<path d="M481.1,253.0 v1.6" stroke="#4c4c4c" stroke-width="0.6"/>
<rect x="487.0" y="252.4" width="2.8" height="2.8" fill="#fff" stroke="#4c4c4c" stroke-width="0.6"/>
<path d="M488.5,253.0 v1.6" stroke="#4c4c4c" stroke-width="0.6"/>
<rect x="534.4" y="252.4" width="2.8" height="2.8" fill="#fff" stroke="#4c4c4c" stroke-width="0.6"/>
<path d="M535.9,253.0 v1.6" stroke="#4c4c4c" stroke-width="0.6"/>
<rect x="541.8" y="252.4" width="2.8" height="2.8" fill="#fff" stroke="#4c4c4c" stroke-width="0.6"/>
<path d="M543.3,253.0 v1.6" stroke="#4c4c4c" stroke-width="0.6"/>
<rect x="506.6" y="277.0" width="2.8" height="2.8" fill="#fff" stroke="#4c4c4c" stroke-width="0.6"/>
<path d="M508.1,277.6 v1.6" stroke="#4c4c4c" stroke-width="0.6"/>
<rect x="514.8" y="277.0" width="2.8" height="2.8" fill="#fff" stroke="#4c4c4c" stroke-width="0.6"/>
<path d="M516.3,277.6 v1.6" stroke="#4c4c4c" stroke-width="0.6"/>
<rect x="506.6" y="350.5" width="2.8" height="2.8" fill="#fff" stroke="#4c4c4c" stroke-width="0.6"/>
<path d="M508.1,351.1 v1.6" stroke="#4c4c4c" stroke-width="0.6"/>
<rect x="514.8" y="350.5" width="2.8" height="2.8" fill="#fff" stroke="#4c4c4c" stroke-width="0.6"/>
<path d="M516.3,351.1 v1.6" stroke="#4c4c4c" stroke-width="0.6"/>
<path d="M56,570.2 H47 Q43,570.2 43,574.2 V627.2 Q43,631.2 47,631.2 H56" fill="#fff" stroke="#1c1c1c" stroke-width="1.0" />
<circle cx="49.4" cy="578.8" r="5.1" fill="#fff" stroke="#1c1c1c" stroke-width="1.4"/>
<path d="M46.4,576.6 L52.4,581 M52.4,576.6 L46.4,581" fill="none" stroke="#999" stroke-width="0.8" />
<path d="M49.3,585.8 L49.3,588.4" stroke="#1c1c1c" stroke-width="1.2" fill="none"/>
<path d="M62.8,408.9 H160.1 Q165.1,408.9 165.1,413.9 V801.6 Q165.1,806.6 160.1,806.6 H62.8 Q57.8,806.6 57.8,801.6 V413.9 Q57.8,408.9 62.8,408.9 Z M111.3,408.9 V442.5 M108.9,442.5 V806.6 M57.8,442.5 H165.1 M108.9,525 H165.1 M57.8,608.5 H108.9 M108.9,613.6 H165.1 M108.9,672 H165.1 " stroke="#1c1c1c" stroke-width="5.95" fill="none" stroke-linejoin="round" stroke-linecap="round"/>
<path d="M78.6,411 V415.6 M90.4,440 V436.2 M132.5,411 V416.6 M142.6,411 V412.6 M60,468.5 H67.4 M60,511.4 H79.4 M106.5,460.8 H90.2 M106.5,477.8 H101.3 M60,541.6 H80.2 M106.5,548.4 H91.9 M106.5,574.3 H101.8 M60,586.6 H68.3 M106.5,596.9 H90.2 M60,630.8 H67.5 M106.5,630.8 H99.3 M60,686.3 H67.5 M106.5,686.3 H99.3 M60,732.6 H67.5 M106.5,732.6 H99.3 M60,784.2 H67.5 M106.5,784.2 H99.3 M111,471 H121.9 M111,495.3 H121.9 M162.7,478.7 H154.7 M162.7,488.6 H154.7 M111,532.7 H136.4 M162.7,544.4 H151.9 M162.7,556 H151.9 M162.7,567.3 H153.8 M111,577.2 H126.4 M127.3,611 V607.6 M151.1,611 V607.6 M111,631 H121 M111,657.4 H127 M162.7,636 H155 M162.7,656 H155 M111,691 H116.5 M111,722.8 H116.5 M111,757 H118 M111,794 H121 M162.7,692 H148 M162.7,752 H147 M162.7,793 H148 " stroke="#1c1c1c" stroke-width="6.35" fill="none" stroke-linejoin="round" stroke-linecap="round"/>
<path d="M62.8,408.9 H160.1 Q165.1,408.9 165.1,413.9 V801.6 Q165.1,806.6 160.1,806.6 H62.8 Q57.8,806.6 57.8,801.6 V413.9 Q57.8,408.9 62.8,408.9 Z M111.3,408.9 V442.5 M108.9,442.5 V806.6 M57.8,442.5 H165.1 M108.9,525 H165.1 M57.8,608.5 H108.9 M108.9,613.6 H165.1 M108.9,672 H165.1 " stroke="#fff" stroke-width="3.65" fill="none" stroke-linejoin="round" stroke-linecap="round"/>
<path d="M78.6,411 V415.6 M90.4,440 V436.2 M132.5,411 V416.6 M142.6,411 V412.6 M60,468.5 H67.4 M60,511.4 H79.4 M106.5,460.8 H90.2 M106.5,477.8 H101.3 M60,541.6 H80.2 M106.5,548.4 H91.9 M106.5,574.3 H101.8 M60,586.6 H68.3 M106.5,596.9 H90.2 M60,630.8 H67.5 M106.5,630.8 H99.3 M60,686.3 H67.5 M106.5,686.3 H99.3 M60,732.6 H67.5 M106.5,732.6 H99.3 M60,784.2 H67.5 M106.5,784.2 H99.3 M111,471 H121.9 M111,495.3 H121.9 M162.7,478.7 H154.7 M162.7,488.6 H154.7 M111,532.7 H136.4 M162.7,544.4 H151.9 M162.7,556 H151.9 M162.7,567.3 H153.8 M111,577.2 H126.4 M127.3,611 V607.6 M151.1,611 V607.6 M111,631 H121 M111,657.4 H127 M162.7,636 H155 M162.7,656 H155 M111,691 H116.5 M111,722.8 H116.5 M111,757 H118 M111,794 H121 M162.7,692 H148 M162.7,752 H147 M162.7,793 H148 " stroke="#fff" stroke-width="4.05" fill="none" stroke-linejoin="round" stroke-linecap="round"/>
<rect x="60.8" y="434.0" width="4.2" height="4.2" fill="#bbb" stroke="#1c1c1c" stroke-width="0.8"/>
<rect x="113.6" y="411.2" width="4.2" height="4.2" fill="#bbb" stroke="#1c1c1c" stroke-width="0.8"/>
<rect x="61.2" y="504.2" width="4.2" height="4.2" fill="#bbb" stroke="#1c1c1c" stroke-width="0.8"/>
<rect x="61.2" y="542.5" width="4.2" height="4.2" fill="#bbb" stroke="#1c1c1c" stroke-width="0.8"/>
<rect x="112.0" y="463.8" width="4.2" height="4.2" fill="#bbb" stroke="#1c1c1c" stroke-width="0.8"/>
<rect x="112.0" y="498.4" width="4.2" height="4.2" fill="#bbb" stroke="#1c1c1c" stroke-width="0.8"/>
<rect x="112.0" y="540.4" width="4.2" height="4.2" fill="#bbb" stroke="#1c1c1c" stroke-width="0.8"/>
<rect x="112.0" y="569.2" width="4.2" height="4.2" fill="#bbb" stroke="#1c1c1c" stroke-width="0.8"/>
<rect x="112.0" y="606.0" width="4.2" height="4.2" fill="#bbb" stroke="#1c1c1c" stroke-width="0.8"/>
<rect x="60.8" y="798.0" width="4.2" height="4.2" fill="#bbb" stroke="#1c1c1c" stroke-width="0.8"/>
<rect x="101.0" y="798.0" width="4.2" height="4.2" fill="#bbb" stroke="#1c1c1c" stroke-width="0.8"/>
<rect x="112.0" y="749.4" width="4.2" height="4.2" fill="#bbb" stroke="#1c1c1c" stroke-width="0.8"/>
<rect x="157.0" y="755.0" width="4.2" height="4.2" fill="#bbb" stroke="#1c1c1c" stroke-width="0.8"/>
<rect x="112.0" y="617.2" width="4.2" height="4.2" fill="#bbb" stroke="#1c1c1c" stroke-width="0.8"/>
<path d="M74,419 H96 Q98.6,419 98.6,421.5 V430 Q98.6,432.2 96,432.2 H74 V429.5 H71 V421.7 H74 Z" fill="#fff" stroke="#1c1c1c" stroke-width="1.0" />
<rect x="84.5" y="423.5" width="2.4" height="4.2" rx="0" fill="#222" stroke="#111" stroke-width="0.6"/>
<path d="M125.5,422 H139.5 V418.4 H146 L149,421 H152 L153.8,423 V430 L152,432 H149 V434 H127.5 V430.6 H125.5 L123,428.8 V424 Z" fill="#fff" stroke="#1c1c1c" stroke-width="1.1" />
<path d="M125,424.2 H140 M125,428.6 H140 M127.5,431.6 H146" fill="none" stroke="#111" stroke-width="1.3" />
<rect x="141.0" y="421.5" width="4.6" height="10.5" rx="0" fill="#777" stroke="#111" stroke-width="0.7"/>
<circle cx="143.4" cy="420.6" r="1.4" fill="#fff" stroke="#111" stroke-width="0.7"/>
<circle cx="143.2" cy="432.0" r="1.4" fill="#fff" stroke="#111" stroke-width="0.7"/>
<rect x="148.6" y="423.4" width="3.4" height="6.6" rx="0" fill="#fff" stroke="#111" stroke-width="0.8"/>
<path d="M78.8,457.0 L86.5,457.0 L86.5,465.5 L96.7,465.5 L96.7,489.3 L93.3,489.3 L93.3,494.4 L89.9,498.7 L87.3,498.7 L87.3,503.8 L83.1,503.8 L83.1,496.1 L80.5,493.6 L80.5,482.5 L75.4,482.5 L75.4,476.6 L72.0,472.3 L72.0,465.5 L76.3,465.5 L76.3,461.3 L78.8,461.3 Z" fill="#fff" stroke="#1c1c1c" stroke-width="1.2" />
<rect x="72.0" y="453.6" width="4.3" height="11.9" rx="0" fill="#fff" stroke="#1c1c1c" stroke-width="0.9"/>
<path d="M72.0,457.5 L76.3,457.5" stroke="#1c1c1c" stroke-width="0.8" fill="none"/>
<path d="M76,482.5 H84 V493.5 H80.5 M81.5,482.5 V490 M76,486 H80.5" fill="none" stroke="#1c1c1c" stroke-width="1.0" />
<circle cx="81.8" cy="483.3" r="1.5" fill="#fff" stroke="#1c1c1c" stroke-width="0.8"/>
<rect x="81.4" y="503.8" width="6.8" height="2.8" rx="0" fill="#fff" stroke="#1c1c1c" stroke-width="0.9"/>
<rect x="82.2" y="506.6" width="2.2" height="13.4" rx="0" fill="#bbb" stroke="#1c1c1c" stroke-width="0.9"/>
<path d="M82.2,529.3 H87.6 L88.4,533 H86.8 V557.3 H82.8 V531 H82.2 Z" fill="#fff" stroke="#1c1c1c" stroke-width="1.0" />
<path d="M84.8,531.0 L84.8,557.3" stroke="#1c1c1c" stroke-width="0.9" fill="none"/>
<path d="M80.5,557.3 L89.9,557.3 L89.9,565.0 L95.0,569.2 L95.0,576.0 L97.5,576.0 L97.5,587.9 L86.5,587.9 L86.5,598.1 L78.8,599.0 L76.3,596.4 L76.3,589.6 L72.0,584.5 L72.9,577.7 L75.4,574.3 L75.4,565.8 L80.5,562.4 Z" fill="#fff" stroke="#1c1c1c" stroke-width="1.2" />
<rect x="80.5" y="562.4" width="8.5" height="11.9" rx="0" fill="#333" stroke="#111" stroke-width="0.6"/>
<rect x="82.6" y="565.5" width="4.4" height="4.6" rx="0" fill="#ddd" stroke="#111" stroke-width="0.5"/>
<rect x="76.0" y="566.0" width="4.5" height="8.0" rx="0" fill="#fff" stroke="#1c1c1c" stroke-width="0.8"/>
<rect x="87.3" y="574.3" width="9.4" height="12.7" rx="0" fill="#fff" stroke="#1c1c1c" stroke-width="0.9"/>
<circle cx="91.5" cy="581.0" r="0.8" fill="#111" stroke="#111" stroke-width="0.5"/>
<circle cx="94.6" cy="577.0" r="0.7" fill="#111" stroke="#111" stroke-width="0.4"/>
<circle cx="81.4" cy="579.4" r="2.4" fill="#fff" stroke="#1c1c1c" stroke-width="0.9"/>
<rect x="78.0" y="583.7" width="5.0" height="5.9" rx="0" fill="#222" stroke="#111" stroke-width="0.5"/>
<path d="M82.0,589.6 L82.0,593.0" stroke="#111" stroke-width="1.5" fill="none"/>
<path d="M70.5,621.2 H80.1 V713 H70.5 Z" fill="#fff" stroke="#1c1c1c" stroke-width="1.1" />
<path d="M70.5,623.0 L80.1,623.0" stroke="#1c1c1c" stroke-width="0.7" fill="none"/>
<path d="M70.5,711.0 L80.1,711.0" stroke="#1c1c1c" stroke-width="0.7" fill="none"/>
<path d="M71.1,713 H79.5 V716 H71.1 Z" fill="#ddd" stroke="#1c1c1c" stroke-width="0.8" />
<path d="M71.1,716 L72.4,793.2 H77.8 L79.1,716 Z" fill="#fff" stroke="#1c1c1c" stroke-width="1.1" />
<path d="M87.3,621.2 H96.9 V713 H87.3 Z" fill="#fff" stroke="#1c1c1c" stroke-width="1.1" />
<path d="M87.3,623.0 L96.9,623.0" stroke="#1c1c1c" stroke-width="0.7" fill="none"/>
<path d="M87.3,711.0 L96.9,711.0" stroke="#1c1c1c" stroke-width="0.7" fill="none"/>
<path d="M87.89999999999999,713 H96.30000000000001 V716 H87.89999999999999 Z" fill="#ddd" stroke="#1c1c1c" stroke-width="0.8" />
<path d="M87.89999999999999,716 L89.2,793.2 H94.60000000000001 L95.9,716 Z" fill="#fff" stroke="#1c1c1c" stroke-width="1.1" />
<rect x="67.4" y="665.6" width="3.4" height="7.7" rx="0" fill="#aaa" stroke="#1c1c1c" stroke-width="0.7"/>
<rect x="96.8" y="665.6" width="3.4" height="7.7" rx="0" fill="#aaa" stroke="#1c1c1c" stroke-width="0.7"/>
<path d="M127.5,463.5 L131,462 L149,476.5 V479.6 H128 L126.6,475 V467 Z" fill="#fff" stroke="#1c1c1c" stroke-width="1.1" />
<circle cx="133.8" cy="475.1" r="1.5" fill="#fff" stroke="#1c1c1c" stroke-width="0.8"/>
<circle cx="132.9" cy="462.6" r="1.3" fill="#fff" stroke="#1c1c1c" stroke-width="0.8"/>
<path d="M128,487.2 H149 V490.5 L131,504.5 L127.5,503 L126.6,499 V491 Z" fill="#fff" stroke="#1c1c1c" stroke-width="1.1" />
<circle cx="133.8" cy="492.2" r="1.5" fill="#fff" stroke="#1c1c1c" stroke-width="0.8"/>
<circle cx="132.9" cy="504.0" r="1.3" fill="#fff" stroke="#1c1c1c" stroke-width="0.8"/>
<rect x="148.0" y="476.3" width="3.2" height="3.2" rx="0" fill="#333" stroke="#111" stroke-width="0.5"/>
<rect x="148.0" y="487.6" width="3.2" height="3.2" rx="0" fill="#333" stroke="#111" stroke-width="0.5"/>
<path d="M141.9,535.5 L147.8,534.5 V558.8 H141.9 Z" fill="#fff" stroke="#1c1c1c" stroke-width="1.0" />
<path d="M136.5,542.6 L143.7,542.6" stroke="#111" stroke-width="1.7" fill="none"/>
<path d="M136.5,554.3 L143.7,554.3" stroke="#111" stroke-width="1.7" fill="none"/>
<rect x="130.2" y="566.0" width="3.2" height="17.0" rx="0" fill="#fff" stroke="#1c1c1c" stroke-width="1.0"/>
<path d="M133.4,568.9 L148.0,568.9" stroke="#333" stroke-width="2.0" fill="none"/>
<rect x="147.3" y="566.0" width="2.7" height="4.5" rx="0" fill="#fff" stroke="#1c1c1c" stroke-width="0.8"/>
<rect x="139.2" y="571.7" width="5.8" height="27.0" rx="2.9" fill="#fff" stroke="#1c1c1c" stroke-width="1.0"/>
<path d="M118.5,601.6 L123,600 H151 L155.4,601.3 L151,603.4 H123 Z" fill="#ccc" stroke="#1c1c1c" stroke-width="0.8" />
<rect x="131.0" y="598.2" width="2.2" height="2.0" rx="0" fill="#333" stroke="#111" stroke-width="0.5"/>
<rect x="149.5" y="598.5" width="4.5" height="4.5" rx="0" fill="#bbb" stroke="#1c1c1c" stroke-width="0.7"/>
<path d="M122.0,601.6 L128.0,601.6" stroke="#222" stroke-width="1.4" fill="none"/>
<path d="M125,626 H129 V631 H151.4 V658 H130.6 V652 H129 V635 H125 Z" fill="#fff" stroke="#1c1c1c" stroke-width="1.1" />
<path d="M143,631 V658 M143,645 H151.4 M133,636 H138 V656 H133 Z M129,640 H133 M135,652 V658" fill="none" stroke="#1c1c1c" stroke-width="0.9" />
<path d="M133.4,638 L137.6,641 L133.4,644 Z M133.4,646 L137.6,649 L133.4,652 Z" fill="#aaa" stroke="#1c1c1c" stroke-width="0.7" />
<path d="M143.4,703 A11.4,19 0 0 1 143.4,741 L143.4,737.6 A8.6,15.8 0 0 0 143.4,706.4 Z" fill="#2e2e2e" stroke="#111" stroke-width="0.8" />
<path d="M143.4,704.8 A10,17.4 0 0 1 143.4,739.4" fill="none" stroke="#ddd" stroke-width="0.8" stroke-dasharray="0.8 2.2"/>
<path d="M143.4,722 L152,712 M143.4,722 L152.4,731 M143.4,722 H154" fill="none" stroke="#1c1c1c" stroke-width="1.0" />
<path d="M120.6,682 H127.4 V788 L124.6,795 L122.0,788 V739 H120.6 Z" fill="#fff" stroke="#1c1c1c" stroke-width="1.0" />
<path d="M122.3,685 V776 M125.7,685 V776" stroke="#222" stroke-width="0.9" stroke-dasharray="1 1.4" fill="none"/>
<rect x="122.0" y="776.0" width="5.4" height="10.0" rx="0" fill="#444" stroke="#111" stroke-width="0.5"/>
<rect x="123.2" y="778.0" width="2.0" height="3.0" rx="0" fill="#ddd" stroke="#ddd" stroke-width="0.3"/>
<path d="M120.6,739.0 L127.4,739.0" stroke="#1c1c1c" stroke-width="0.8" fill="none"/>
<path d="M136,682 H143.4 V788 L140.29999999999998,795 L137.4,788 V739 H136 Z" fill="#fff" stroke="#1c1c1c" stroke-width="1.0" />
<path d="M137.7,685 V776 M141.70000000000002,685 V776" stroke="#222" stroke-width="0.9" stroke-dasharray="1 1.4" fill="none"/>
<rect x="137.4" y="776.0" width="6.0" height="10.0" rx="0" fill="#444" stroke="#111" stroke-width="0.5"/>
<rect x="138.6" y="778.0" width="2.0" height="3.0" rx="0" fill="#ddd" stroke="#ddd" stroke-width="0.3"/>
<path d="M136.0,739.0 L143.4,739.0" stroke="#1c1c1c" stroke-width="0.8" fill="none"/>
<rect x="137.6" y="684.5" width="4.2" height="3.6" rx="0" fill="#555" stroke="#111" stroke-width="0.6"/>
<rect x="122.0" y="720.6" width="3.4" height="3.4" rx="0" fill="#bbb" stroke="#1c1c1c" stroke-width="0.6"/>
<rect x="138.0" y="720.6" width="3.4" height="3.4" rx="0" fill="#bbb" stroke="#1c1c1c" stroke-width="0.6"/>
<rect x="138.0" y="700.0" width="3.6" height="3.0" rx="0" fill="#555" stroke="#111" stroke-width="0.5"/>
<rect x="253.3" y="401.5" width="60.5" height="16" rx="3" fill="#fff" stroke="#1c1c1c" stroke-width="0.9"/>
<path d="M249,416.8 H318.1 Q323.1,416.8 323.1,421.8 V795.7 Q323.1,800.7 318.1,800.7 H249 Q244,800.7 244,795.7 V421.8 Q244,416.8 249,416.8 Z M244,562.2 H323.1 M244,668 H323.1 M276.7,562.2 V668 M266.3,668 V800.7 " stroke="#1c1c1c" stroke-width="6.15" fill="none" stroke-linejoin="round" stroke-linecap="round"/>
<path d="M283.3,419 V424.6 M246.5,442.5 H254.5 L259.5,447 M321,442.5 H312 L307,447 M246.5,470.9 H254.5 L259,466.5 M321,470.9 H312 L307.5,466.5 M253,472 V478 M253,488 V497 M313.9,472 V478 M313.9,488 V497 M246.5,497.8 H258.6 M321,497.2 H311.2 M246.5,513.5 H258.6 M321,514.2 H311.2 M246.5,534.4 H258.6 M321,534.4 H311.2 M246.5,548.3 H258.6 M321,549.1 H311.2 M274.4,580 H268 M274.4,622.3 H268 M274.4,642.1 H268 M246.6,642.1 H253 M274.4,655.5 H268 M246.6,655.5 H253 M246.6,596.3 H257.2 M246.6,603.3 H257.2 M279,574.5 H283.8 M320.6,574.5 H315.2 M279,586.2 H283.8 M320.6,586.2 H315.2 M279,597.9 H283.8 M320.6,597.9 H315.2 M279,610.1 H283.8 M320.6,610.1 H315.2 M279,622.1 H283.8 M320.6,622.1 H315.2 M279,633.8 H283.8 M320.6,633.8 H315.2 M279,645.5 H283.8 M320.6,645.5 H315.2 M279,657.2 H283.8 M320.6,657.2 H315.2 M246.6,687.4 H250.3 M264,696 H260.2 M246.6,717.4 H250.3 M264,725.3 H260.2 M246.6,746.6 H250.3 M264,753.4 H260.2 M246.6,774.4 H250.3 M264,782.6 H260.2 M268.7,694.9 H273.5 M268.7,724.9 H273.5 M320.6,739.9 H315.7 M280.8,670.5 V671.5 M305.5,670.5 V671.5 M282.2,798.3 V794.7 M303.2,798.3 V794.7 " stroke="#1c1c1c" stroke-width="6.55" fill="none" stroke-linejoin="round" stroke-linecap="round"/>
<path d="M249,416.8 H318.1 Q323.1,416.8 323.1,421.8 V795.7 Q323.1,800.7 318.1,800.7 H249 Q244,800.7 244,795.7 V421.8 Q244,416.8 249,416.8 Z M244,562.2 H323.1 M244,668 H323.1 M276.7,562.2 V668 M266.3,668 V800.7 " stroke="#fff" stroke-width="3.85" fill="none" stroke-linejoin="round" stroke-linecap="round"/>
<path d="M283.3,419 V424.6 M246.5,442.5 H254.5 L259.5,447 M321,442.5 H312 L307,447 M246.5,470.9 H254.5 L259,466.5 M321,470.9 H312 L307.5,466.5 M253,472 V478 M253,488 V497 M313.9,472 V478 M313.9,488 V497 M246.5,497.8 H258.6 M321,497.2 H311.2 M246.5,513.5 H258.6 M321,514.2 H311.2 M246.5,534.4 H258.6 M321,534.4 H311.2 M246.5,548.3 H258.6 M321,549.1 H311.2 M274.4,580 H268 M274.4,622.3 H268 M274.4,642.1 H268 M246.6,642.1 H253 M274.4,655.5 H268 M246.6,655.5 H253 M246.6,596.3 H257.2 M246.6,603.3 H257.2 M279,574.5 H283.8 M320.6,574.5 H315.2 M279,586.2 H283.8 M320.6,586.2 H315.2 M279,597.9 H283.8 M320.6,597.9 H315.2 M279,610.1 H283.8 M320.6,610.1 H315.2 M279,622.1 H283.8 M320.6,622.1 H315.2 M279,633.8 H283.8 M320.6,633.8 H315.2 M279,645.5 H283.8 M320.6,645.5 H315.2 M279,657.2 H283.8 M320.6,657.2 H315.2 M246.6,687.4 H250.3 M264,696 H260.2 M246.6,717.4 H250.3 M264,725.3 H260.2 M246.6,746.6 H250.3 M264,753.4 H260.2 M246.6,774.4 H250.3 M264,782.6 H260.2 M268.7,694.9 H273.5 M268.7,724.9 H273.5 M320.6,739.9 H315.7 M280.8,670.5 V671.5 M305.5,670.5 V671.5 M282.2,798.3 V794.7 M303.2,798.3 V794.7 " stroke="#fff" stroke-width="4.25" fill="none" stroke-linejoin="round" stroke-linecap="round"/>
<path d="M295.2,408.2 L298.0,408.2" stroke="#1c1c1c" stroke-width="1.4" fill="none"/>
<circle cx="304.6" cy="408.2" r="5.2" fill="#fff" stroke="#1c1c1c" stroke-width="1.5"/>
<text x="304.7" y="411.3" font-size="8.4" text-anchor="middle" fill="#222" font-family='"Liberation Sans", sans-serif' font-weight="normal" font-style="italic">Z</text>
<rect x="247.0" y="435.0" width="3.8" height="3.8" fill="#bbb" stroke="#1c1c1c" stroke-width="0.8"/>
<rect x="247.0" y="464.2" width="3.8" height="3.8" fill="#bbb" stroke="#1c1c1c" stroke-width="0.8"/>
<rect x="316.0" y="464.2" width="3.8" height="3.8" fill="#bbb" stroke="#1c1c1c" stroke-width="0.8"/>
<rect x="247.0" y="501.8" width="3.8" height="3.8" fill="#bbb" stroke="#1c1c1c" stroke-width="0.8"/>
<rect x="247.0" y="516.0" width="3.8" height="3.8" fill="#bbb" stroke="#1c1c1c" stroke-width="0.8"/>
<rect x="247.0" y="528.2" width="3.8" height="3.8" fill="#bbb" stroke="#1c1c1c" stroke-width="0.8"/>
<rect x="247.0" y="550.8" width="3.8" height="3.8" fill="#bbb" stroke="#1c1c1c" stroke-width="0.8"/>
<rect x="280.0" y="565.0" width="3.8" height="3.8" fill="#bbb" stroke="#1c1c1c" stroke-width="0.8"/>
<rect x="280.0" y="658.3" width="3.8" height="3.8" fill="#bbb" stroke="#1c1c1c" stroke-width="0.8"/>
<rect x="247.3" y="586.5" width="3.8" height="3.8" fill="#bbb" stroke="#1c1c1c" stroke-width="0.8"/>
<rect x="247.3" y="607.6" width="3.8" height="3.8" fill="#bbb" stroke="#1c1c1c" stroke-width="0.8"/>
<rect x="247.3" y="656.5" width="3.8" height="3.8" fill="#bbb" stroke="#1c1c1c" stroke-width="0.8"/>
<rect x="246.8" y="793.0" width="3.8" height="3.8" fill="#bbb" stroke="#1c1c1c" stroke-width="0.8"/>
<rect x="269.3" y="671.6" width="3.8" height="3.8" fill="#bbb" stroke="#1c1c1c" stroke-width="0.8"/>
<rect x="315.6" y="793.0" width="3.8" height="3.8" fill="#bbb" stroke="#1c1c1c" stroke-width="0.8"/>
<circle cx="283.3" cy="456.5" r="27.2" fill="#fff" stroke="#1c1c1c" stroke-width="1.1"/>
<circle cx="283.3" cy="456.5" r="25.9" fill="#fff" stroke="#1c1c1c" stroke-width="0.7"/>
<circle cx="283.3" cy="456.5" r="24.3" fill="#fff" stroke="#1c1c1c" stroke-width="0.7"/>
<circle cx="283.3" cy="456.5" r="23.1" fill="#fff" stroke="#1c1c1c" stroke-width="1.2"/>
<rect x="254.3" y="454.2" width="3.6" height="4.6" rx="1.2" fill="#fff" stroke="#1c1c1c" stroke-width="0.9"/>
<rect x="308.7" y="454.2" width="3.6" height="4.6" rx="1.2" fill="#fff" stroke="#1c1c1c" stroke-width="0.9"/>
<circle cx="309.0" cy="463.4" r="0.6" fill="#111" stroke="#111" stroke-width="0.4"/>
<circle cx="302.1" cy="475.3" r="0.6" fill="#111" stroke="#111" stroke-width="0.4"/>
<circle cx="290.2" cy="482.2" r="0.6" fill="#111" stroke="#111" stroke-width="0.4"/>
<circle cx="276.4" cy="482.2" r="0.6" fill="#111" stroke="#111" stroke-width="0.4"/>
<circle cx="264.5" cy="475.3" r="0.6" fill="#111" stroke="#111" stroke-width="0.4"/>
<circle cx="257.6" cy="463.4" r="0.6" fill="#111" stroke="#111" stroke-width="0.4"/>
<circle cx="257.6" cy="449.6" r="0.6" fill="#111" stroke="#111" stroke-width="0.4"/>
<circle cx="264.5" cy="437.7" r="0.6" fill="#111" stroke="#111" stroke-width="0.4"/>
<circle cx="276.4" cy="430.8" r="0.6" fill="#111" stroke="#111" stroke-width="0.4"/>
<circle cx="290.2" cy="430.8" r="0.6" fill="#111" stroke="#111" stroke-width="0.4"/>
<circle cx="302.1" cy="437.7" r="0.6" fill="#111" stroke="#111" stroke-width="0.4"/>
<circle cx="309.0" cy="449.6" r="0.6" fill="#111" stroke="#111" stroke-width="0.4"/>
<circle cx="253.0" cy="483.2" r="3.7" fill="#333" stroke="#111" stroke-width="1.0"/>
<circle cx="253.0" cy="483.2" r="1.3" fill="#ccc" stroke="#111" stroke-width="0.5"/>
<circle cx="253" cy="483.2" r="2.5" fill="none" stroke="#ddd" stroke-width="0.7" stroke-dasharray="0.8 0.8"/>
<circle cx="313.9" cy="483.2" r="3.7" fill="#333" stroke="#111" stroke-width="1.0"/>
<circle cx="313.9" cy="483.2" r="1.3" fill="#ccc" stroke="#111" stroke-width="0.5"/>
<circle cx="313.9" cy="483.2" r="2.5" fill="none" stroke="#ddd" stroke-width="0.7" stroke-dasharray="0.8 0.8"/>
<path d="M262.8,493.0 H298 L299.5,493.90000000000003 H306.2 V499.7 H299.5 L298,500.6 H262.8 Z" fill="#fff" stroke="#1c1c1c" stroke-width="1.1" />
<rect x="262.8" y="494.0" width="4.4" height="5.6" rx="0" fill="#fff" stroke="#111" stroke-width="0.7"/>
<rect x="263.8" y="495.4" width="2.4" height="2.8" rx="0" fill="#333" stroke="#111" stroke-width="0.4"/>
<path d="M267.2,498.6 L298.0,498.6" stroke="#333" stroke-width="0.6" fill="none"/>
<path d="M262.8,509.99999999999994 H298 L299.5,510.9 H306.2 V516.6999999999999 H299.5 L298,517.5999999999999 H262.8 Z" fill="#fff" stroke="#1c1c1c" stroke-width="1.1" />
<rect x="262.8" y="511.0" width="4.4" height="5.6" rx="0" fill="#fff" stroke="#111" stroke-width="0.7"/>
<rect x="263.8" y="512.4" width="2.4" height="2.8" rx="0" fill="#333" stroke="#111" stroke-width="0.4"/>
<path d="M267.2,515.6 L298.0,515.6" stroke="#333" stroke-width="0.6" fill="none"/>
<path d="M262.8,530.0 H298 L299.5,530.9 H306.2 V536.6999999999999 H299.5 L298,537.5999999999999 H262.8 Z" fill="#fff" stroke="#1c1c1c" stroke-width="1.1" />
<rect x="262.8" y="531.0" width="4.4" height="5.6" rx="0" fill="#fff" stroke="#111" stroke-width="0.7"/>
<rect x="263.8" y="532.4" width="2.4" height="2.8" rx="0" fill="#333" stroke="#111" stroke-width="0.4"/>
<path d="M267.2,535.6 L298.0,535.6" stroke="#333" stroke-width="0.6" fill="none"/>
<path d="M262.8,544.9000000000001 H298 L299.5,545.8000000000001 H306.2 V551.6 H299.5 L298,552.5 H262.8 Z" fill="#fff" stroke="#1c1c1c" stroke-width="1.1" />
<rect x="262.8" y="545.9" width="4.4" height="5.6" rx="0" fill="#fff" stroke="#111" stroke-width="0.7"/>
<rect x="263.8" y="547.3" width="2.4" height="2.8" rx="0" fill="#333" stroke="#111" stroke-width="0.4"/>
<path d="M267.2,550.5 L298.0,550.5" stroke="#333" stroke-width="0.6" fill="none"/>
<rect x="291.8" y="518.4" width="1.7" height="2.6" rx="0" fill="#111" stroke="#111" stroke-width="0.5"/>
<rect x="291.8" y="527.3" width="1.7" height="2.6" rx="0" fill="#111" stroke="#111" stroke-width="0.5"/>
<rect x="256.6" y="572.4" width="7.6" height="9.0" rx="1" fill="#fff" stroke="#111" stroke-width="1.0"/>
<path d="M256.8,575 H264 M256.8,578.6 H264" stroke="#111" stroke-width="0.9"/>
<rect x="258.6" y="581.4" width="3.8" height="11.0" rx="0" fill="#fff" stroke="#111" stroke-width="1.0"/>
<path d="M258.6,585 H262.4 M258.6,588.5 H262.4" stroke="#111" stroke-width="0.8"/>
<rect x="258.2" y="592.4" width="4.6" height="4.2" rx="1.4" fill="#fff" stroke="#111" stroke-width="0.9"/>
<rect x="258.2" y="604.6" width="4.6" height="4.2" rx="1.4" fill="#fff" stroke="#111" stroke-width="0.9"/>
<rect x="258.6" y="608.8" width="3.8" height="11.0" rx="0" fill="#fff" stroke="#111" stroke-width="1.0"/>
<path d="M258.6,612.5 H262.4 M258.6,616 H262.4" stroke="#111" stroke-width="0.8"/>
<rect x="256.6" y="619.8" width="7.6" height="9.0" rx="1" fill="#fff" stroke="#111" stroke-width="1.0"/>
<path d="M256.8,623 H264 M256.8,626.4 H264" stroke="#111" stroke-width="0.9"/>
<circle cx="260.4" cy="642.1" r="3.3" fill="#fff" stroke="#111" stroke-width="1.6"/>
<circle cx="260.4" cy="642.1" r="1.2" fill="#444" stroke="#111" stroke-width="0.6"/>
<circle cx="260.4" cy="655.5" r="3.3" fill="#fff" stroke="#111" stroke-width="1.6"/>
<circle cx="260.4" cy="655.5" r="1.2" fill="#444" stroke="#111" stroke-width="0.6"/>
<rect x="287.3" y="572.3" width="24.3" height="4.4" rx="1" fill="#fff" stroke="#1c1c1c" stroke-width="1.1"/>
<path d="M289.6,572.3 L289.6,576.7" stroke="#1c1c1c" stroke-width="0.7" fill="none"/>
<rect x="287.3" y="584.0" width="24.3" height="4.4" rx="1" fill="#fff" stroke="#1c1c1c" stroke-width="1.1"/>
<path d="M289.6,584.0 L289.6,588.4" stroke="#1c1c1c" stroke-width="0.7" fill="none"/>
<rect x="287.3" y="595.7" width="24.3" height="4.4" rx="1" fill="#fff" stroke="#1c1c1c" stroke-width="1.1"/>
<path d="M289.6,595.7 L289.6,600.1" stroke="#1c1c1c" stroke-width="0.7" fill="none"/>
<rect x="287.3" y="607.9" width="24.3" height="4.4" rx="1" fill="#fff" stroke="#1c1c1c" stroke-width="1.1"/>
<path d="M289.6,607.9 L289.6,612.3" stroke="#1c1c1c" stroke-width="0.7" fill="none"/>
<rect x="287.3" y="619.9" width="24.3" height="4.4" rx="1" fill="#fff" stroke="#1c1c1c" stroke-width="1.1"/>
<path d="M289.6,619.9 L289.6,624.3" stroke="#1c1c1c" stroke-width="0.7" fill="none"/>
<rect x="287.3" y="631.6" width="24.3" height="4.4" rx="1" fill="#fff" stroke="#1c1c1c" stroke-width="1.1"/>
<path d="M289.6,631.6 L289.6,636.0" stroke="#1c1c1c" stroke-width="0.7" fill="none"/>
<rect x="287.3" y="643.3" width="24.3" height="4.4" rx="1" fill="#fff" stroke="#1c1c1c" stroke-width="1.1"/>
<path d="M289.6,643.3 L289.6,647.7" stroke="#1c1c1c" stroke-width="0.7" fill="none"/>
<rect x="287.3" y="655.0" width="24.3" height="4.4" rx="1" fill="#fff" stroke="#1c1c1c" stroke-width="1.1"/>
<path d="M289.6,655.0 L289.6,659.4" stroke="#1c1c1c" stroke-width="0.7" fill="none"/>
<path d="M301.3,619.9 L301.3,624.3" stroke="#1c1c1c" stroke-width="0.9" fill="none"/>
<path d="M301.3,631.6 L301.3,636.0" stroke="#1c1c1c" stroke-width="0.9" fill="none"/>
<path d="M301.3,643.3 L301.3,647.7" stroke="#1c1c1c" stroke-width="0.9" fill="none"/>
<path d="M301.3,655.0 L301.3,659.4" stroke="#1c1c1c" stroke-width="0.9" fill="none"/>
<rect x="254.2" y="682.5" width="2.6" height="20.2" rx="1.2" fill="#444" stroke="#111" stroke-width="0.6"/>
<rect x="254.2" y="711.8" width="2.6" height="20.2" rx="1.2" fill="#444" stroke="#111" stroke-width="0.6"/>
<rect x="254.2" y="740.3" width="2.6" height="20.2" rx="1.2" fill="#444" stroke="#111" stroke-width="0.6"/>
<rect x="254.2" y="768.8" width="2.6" height="20.2" rx="1.2" fill="#444" stroke="#111" stroke-width="0.6"/>
<path d="M277.3,675.7 H309.5 Q311.5,675.7 311.5,677.7 V680.7 Q311.5,682.7 309.5,682.7 H277.3 Z" fill="#fff" stroke="#111" stroke-width="1.2" />
<path d="M293.5,675.7 L293.5,682.7" stroke="#111" stroke-width="0.9" fill="none"/>
<path d="M277.9,675.7 L277.9,682.7" stroke="#111" stroke-width="1.6" fill="none"/>
<path d="M310.1,676.2 L310.1,682.2" stroke="#222" stroke-width="1.2" fill="none"/>
<path d="M277.3,691.3 H309.5 Q311.5,691.3 311.5,693.3 V696.3 Q311.5,698.3 309.5,698.3 H277.3 Z" fill="#fff" stroke="#111" stroke-width="1.2" />
<path d="M293.5,691.3 L293.5,698.3" stroke="#111" stroke-width="0.9" fill="none"/>
<path d="M277.9,691.3 L277.9,698.3" stroke="#111" stroke-width="1.6" fill="none"/>
<path d="M310.1,691.8 L310.1,697.8" stroke="#222" stroke-width="1.2" fill="none"/>
<path d="M277.3,706.3 H309.5 Q311.5,706.3 311.5,708.3 V711.3 Q311.5,713.3 309.5,713.3 H277.3 Z" fill="#fff" stroke="#111" stroke-width="1.2" />
<path d="M293.5,706.3 L293.5,713.3" stroke="#111" stroke-width="0.9" fill="none"/>
<path d="M277.9,706.3 L277.9,713.3" stroke="#111" stroke-width="1.6" fill="none"/>
<path d="M310.1,706.8 L310.1,712.8" stroke="#222" stroke-width="1.2" fill="none"/>
<path d="M277.3,721.3 H309.5 Q311.5,721.3 311.5,723.3 V726.3 Q311.5,728.3 309.5,728.3 H277.3 Z" fill="#fff" stroke="#111" stroke-width="1.2" />
<path d="M293.5,721.3 L293.5,728.3" stroke="#111" stroke-width="0.9" fill="none"/>
<path d="M277.9,721.3 L277.9,728.3" stroke="#111" stroke-width="1.6" fill="none"/>
<path d="M310.1,721.8 L310.1,727.8" stroke="#222" stroke-width="1.2" fill="none"/>
<path d="M276.2,736.7 H308.4 Q310.4,736.7 310.4,738.7 V741.7 Q310.4,743.7 308.4,743.7 H276.2 Z" fill="#fff" stroke="#111" stroke-width="1.2" />
<path d="M293.5,736.7 L293.5,743.7" stroke="#111" stroke-width="0.9" fill="none"/>
<path d="M276.8,736.7 L276.8,743.7" stroke="#111" stroke-width="1.6" fill="none"/>
<path d="M309.0,737.2 L309.0,743.2" stroke="#222" stroke-width="1.2" fill="none"/>
<rect x="310.4" y="738.6" width="2.2" height="3.2" rx="0.6" fill="#fff" stroke="#111" stroke-width="0.8"/>
<path d="M276.2,752.5 H308.4 Q310.4,752.5 310.4,754.5 V757.5 Q310.4,759.5 308.4,759.5 H276.2 Z" fill="#fff" stroke="#111" stroke-width="1.2" />
<path d="M293.5,752.5 L293.5,759.5" stroke="#111" stroke-width="0.9" fill="none"/>
<path d="M276.8,752.5 L276.8,759.5" stroke="#111" stroke-width="1.6" fill="none"/>
<path d="M309.0,753.0 L309.0,759.0" stroke="#222" stroke-width="1.2" fill="none"/>
<rect x="310.4" y="754.4" width="2.2" height="3.2" rx="0.6" fill="#fff" stroke="#111" stroke-width="0.8"/>
<path d="M276.2,767.8 H308.4 Q310.4,767.8 310.4,769.8 V772.8 Q310.4,774.8 308.4,774.8 H276.2 Z" fill="#fff" stroke="#111" stroke-width="1.2" />
<path d="M293.5,767.8 L293.5,774.8" stroke="#111" stroke-width="0.9" fill="none"/>
<path d="M276.8,767.8 L276.8,774.8" stroke="#111" stroke-width="1.6" fill="none"/>
<path d="M309.0,768.3 L309.0,774.3" stroke="#222" stroke-width="1.2" fill="none"/>
<rect x="310.4" y="769.7" width="2.2" height="3.2" rx="0.6" fill="#fff" stroke="#111" stroke-width="0.8"/>
<path d="M276.2,782.8 H308.4 Q310.4,782.8 310.4,784.8 V787.8 Q310.4,789.8 308.4,789.8 H276.2 Z" fill="#fff" stroke="#111" stroke-width="1.2" />
<path d="M293.5,782.8 L293.5,789.8" stroke="#111" stroke-width="0.9" fill="none"/>
<path d="M276.8,782.8 L276.8,789.8" stroke="#111" stroke-width="1.6" fill="none"/>
<path d="M309.0,783.3 L309.0,789.3" stroke="#222" stroke-width="1.2" fill="none"/>
<rect x="310.4" y="784.7" width="2.2" height="3.2" rx="0.6" fill="#fff" stroke="#111" stroke-width="0.8"/>
<rect x="442.4" y="390.8" width="70.4" height="18" rx="3" fill="#fff" stroke="#2a2a2a" stroke-width="0.9"/>
<path d="M401.2,407.5 H552.9 Q558.9,407.5 558.9,413.5 V787.9 Q558.9,793.9 552.9,793.9 H401.2 Q395.2,793.9 395.2,787.9 V413.5 Q395.2,407.5 401.2,407.5 Z M472.3,408.2 V793.3 M525.1,408.2 V793.3 M395.2,515.7 H472.3 M395.2,617.1 H472.3 M472.3,547.4 H525.1 M472.3,685.6 H525.1 " stroke="#2a2a2a" stroke-width="5.50" fill="none" stroke-linejoin="round" stroke-linecap="round"/>
<path d="M452,410.5 V420.5 M397.6,438.5 H414.8 M414.8,431.2 V445 M397.6,487.8 H401.5 M469.8,438.5 H460.8 M469.8,480.6 H465.6 M422.4,513.3 V507.3 M448.3,513.3 V506 M419.5,518 V525.6 M448.7,518 V525.6 M397.6,546.8 H406.2 M469.8,547 H461 M397.6,587 H405 M469.8,587 H463.6 M419.5,614.6 V609 M449,614.6 V609 M397.6,656 H412.8 M397.6,682.7 H407 M397.6,725.4 H409 M397.6,763.4 H418.5 M408.4,791.5 V784 M469.8,647.5 H456.5 M469.8,685.5 H456.5 M469.8,737.8 H457.4 M469.8,770 H457.4 M474.8,420.8 H483 M474.8,437.6 H486 M474.8,458.4 H486 M474.8,471.2 H483 M474.8,501.6 H478.2 M474.8,517.6 H478.2 M522.6,420.8 H519 M522.6,436.8 H519 M522.6,454.4 H516 M522.6,470.8 H516 M522.6,498.8 H507.4 M507.4,496.6 V505.8 M507.4,545 V537.4 M474.8,562.4 H479 M474.8,602.4 H479 M474.8,636 H479 M474.8,660 H479 M522.6,572 H520.6 M522.6,595.2 H520.6 M522.6,620 H519 M522.6,650.4 H515.8 M522.6,665.2 H515.8 M474.8,704 H477.4 M474.8,724.8 H477.4 M474.8,758.4 H484.6 M522.6,714.4 H514.2 M522.6,758.4 H515 M527.6,424 H535 M527.6,436 H535 M527.6,458 H538.2 M527.6,484.8 H531 M527.6,516 H531 M527.6,562.4 H534.2 M527.6,576 H534.2 M527.6,595.2 H530.7 M527.6,620.4 H532.6 M527.6,669.6 H532.6 M556.6,423.2 H549.4 M556.6,435.6 H549.4 M556.6,449.6 H547.8 M556.6,478.4 H551 M556.6,496 H551 M556.6,508.8 H551 M556.6,525.6 H551 M556.6,542.4 H548.6 M556.6,562.4 H549.4 M556.6,576 H549.4 M556.6,604 H551.8 M556.6,633.2 H551 M556.6,653.6 H551 M527.6,686.7 H532 M556.6,686.7 H551.2 M527.6,704 H532 M556.6,704 H551.2 M527.6,721.3 H532 M556.6,721.3 H551.2 M527.6,739.2 H532 M556.6,739.2 H551.2 M527.6,757.1 H532 M556.6,757.1 H551.2 M527.6,774.7 H532 M556.6,774.7 H551.2 " stroke="#2a2a2a" stroke-width="6.50" fill="none" stroke-linejoin="round" stroke-linecap="round"/>
<path d="M401.2,407.5 H552.9 Q558.9,407.5 558.9,413.5 V787.9 Q558.9,793.9 552.9,793.9 H401.2 Q395.2,793.9 395.2,787.9 V413.5 Q395.2,407.5 401.2,407.5 Z M472.3,408.2 V793.3 M525.1,408.2 V793.3 M395.2,515.7 H472.3 M395.2,617.1 H472.3 M472.3,547.4 H525.1 M472.3,685.6 H525.1 " stroke="#fff" stroke-width="3.70" fill="none" stroke-linejoin="round" stroke-linecap="round"/>
<path d="M452,410.5 V420.5 M397.6,438.5 H414.8 M414.8,431.2 V445 M397.6,487.8 H401.5 M469.8,438.5 H460.8 M469.8,480.6 H465.6 M422.4,513.3 V507.3 M448.3,513.3 V506 M419.5,518 V525.6 M448.7,518 V525.6 M397.6,546.8 H406.2 M469.8,547 H461 M397.6,587 H405 M469.8,587 H463.6 M419.5,614.6 V609 M449,614.6 V609 M397.6,656 H412.8 M397.6,682.7 H407 M397.6,725.4 H409 M397.6,763.4 H418.5 M408.4,791.5 V784 M469.8,647.5 H456.5 M469.8,685.5 H456.5 M469.8,737.8 H457.4 M469.8,770 H457.4 M474.8,420.8 H483 M474.8,437.6 H486 M474.8,458.4 H486 M474.8,471.2 H483 M474.8,501.6 H478.2 M474.8,517.6 H478.2 M522.6,420.8 H519 M522.6,436.8 H519 M522.6,454.4 H516 M522.6,470.8 H516 M522.6,498.8 H507.4 M507.4,496.6 V505.8 M507.4,545 V537.4 M474.8,562.4 H479 M474.8,602.4 H479 M474.8,636 H479 M474.8,660 H479 M522.6,572 H520.6 M522.6,595.2 H520.6 M522.6,620 H519 M522.6,650.4 H515.8 M522.6,665.2 H515.8 M474.8,704 H477.4 M474.8,724.8 H477.4 M474.8,758.4 H484.6 M522.6,714.4 H514.2 M522.6,758.4 H515 M527.6,424 H535 M527.6,436 H535 M527.6,458 H538.2 M527.6,484.8 H531 M527.6,516 H531 M527.6,562.4 H534.2 M527.6,576 H534.2 M527.6,595.2 H530.7 M527.6,620.4 H532.6 M527.6,669.6 H532.6 M556.6,423.2 H549.4 M556.6,435.6 H549.4 M556.6,449.6 H547.8 M556.6,478.4 H551 M556.6,496 H551 M556.6,508.8 H551 M556.6,525.6 H551 M556.6,542.4 H548.6 M556.6,562.4 H549.4 M556.6,576 H549.4 M556.6,604 H551.8 M556.6,633.2 H551 M556.6,653.6 H551 M527.6,686.7 H532 M556.6,686.7 H551.2 M527.6,704 H532 M556.6,704 H551.2 M527.6,721.3 H532 M556.6,721.3 H551.2 M527.6,739.2 H532 M556.6,739.2 H551.2 M527.6,757.1 H532 M556.6,757.1 H551.2 M527.6,774.7 H532 M556.6,774.7 H551.2 " stroke="#fff" stroke-width="4.70" fill="none" stroke-linejoin="round" stroke-linecap="round"/>
<path d="M491.0,398.3 L494.3,398.3" stroke="#2a2a2a" stroke-width="1.4" fill="none"/>
<circle cx="501.7" cy="398.2" r="5.7" fill="#fff" stroke="#2a2a2a" stroke-width="1.5"/>
<text x="501.7" y="401.6" font-size="9.2" text-anchor="middle" fill="#222" font-family='"Liberation Sans", sans-serif' font-weight="bold" >N</text>
<rect x="399.6" y="430.0" width="3.6" height="3.6" fill="#ccc" stroke="#2a2a2a" stroke-width="0.7"/>
<rect x="455.5" y="412.0" width="3.6" height="3.6" fill="#ccc" stroke="#2a2a2a" stroke-width="0.7"/>
<rect x="399.6" y="507.2" width="3.6" height="3.6" fill="#ccc" stroke="#2a2a2a" stroke-width="0.7"/>
<rect x="464.0" y="507.2" width="3.6" height="3.6" fill="#ccc" stroke="#2a2a2a" stroke-width="0.7"/>
<rect x="399.6" y="519.6" width="3.6" height="3.6" fill="#ccc" stroke="#2a2a2a" stroke-width="0.7"/>
<rect x="399.6" y="609.4" width="3.6" height="3.6" fill="#ccc" stroke="#2a2a2a" stroke-width="0.7"/>
<rect x="400.0" y="675.2" width="3.6" height="3.6" fill="#ccc" stroke="#2a2a2a" stroke-width="0.7"/>
<rect x="400.0" y="718.0" width="3.6" height="3.6" fill="#ccc" stroke="#2a2a2a" stroke-width="0.7"/>
<rect x="412.8" y="785.8" width="3.6" height="3.6" fill="#ccc" stroke="#2a2a2a" stroke-width="0.7"/>
<rect x="476.0" y="429.2" width="3.6" height="3.6" fill="#ccc" stroke="#2a2a2a" stroke-width="0.7"/>
<rect x="476.0" y="448.4" width="3.6" height="3.6" fill="#ccc" stroke="#2a2a2a" stroke-width="0.7"/>
<rect x="518.2" y="411.6" width="3.6" height="3.6" fill="#ccc" stroke="#2a2a2a" stroke-width="0.7"/>
<rect x="518.2" y="473.0" width="3.6" height="3.6" fill="#ccc" stroke="#2a2a2a" stroke-width="0.7"/>
<rect x="476.0" y="539.2" width="3.6" height="3.6" fill="#ccc" stroke="#2a2a2a" stroke-width="0.7"/>
<rect x="476.3" y="551.0" width="3.6" height="3.6" fill="#ccc" stroke="#2a2a2a" stroke-width="0.7"/>
<rect x="517.8" y="551.0" width="3.6" height="3.6" fill="#ccc" stroke="#2a2a2a" stroke-width="0.7"/>
<rect x="476.3" y="596.0" width="3.6" height="3.6" fill="#ccc" stroke="#2a2a2a" stroke-width="0.7"/>
<rect x="476.3" y="678.0" width="3.6" height="3.6" fill="#ccc" stroke="#2a2a2a" stroke-width="0.7"/>
<rect x="517.8" y="623.6" width="3.6" height="3.6" fill="#ccc" stroke="#2a2a2a" stroke-width="0.7"/>
<rect x="517.8" y="642.4" width="3.6" height="3.6" fill="#ccc" stroke="#2a2a2a" stroke-width="0.7"/>
<rect x="517.8" y="668.8" width="3.6" height="3.6" fill="#ccc" stroke="#2a2a2a" stroke-width="0.7"/>
<rect x="517.3" y="690.0" width="3.6" height="3.6" fill="#ccc" stroke="#2a2a2a" stroke-width="0.7"/>
<rect x="517.3" y="786.3" width="3.6" height="3.6" fill="#ccc" stroke="#2a2a2a" stroke-width="0.7"/>
<rect x="529.0" y="412.8" width="3.6" height="3.6" fill="#ccc" stroke="#2a2a2a" stroke-width="0.7"/>
<rect x="529.0" y="441.6" width="3.6" height="3.6" fill="#ccc" stroke="#2a2a2a" stroke-width="0.7"/>
<rect x="529.0" y="464.0" width="3.6" height="3.6" fill="#ccc" stroke="#2a2a2a" stroke-width="0.7"/>
<rect x="550.6" y="484.4" width="3.6" height="3.6" fill="#ccc" stroke="#2a2a2a" stroke-width="0.7"/>
<rect x="550.6" y="502.4" width="3.6" height="3.6" fill="#ccc" stroke="#2a2a2a" stroke-width="0.7"/>
<rect x="550.6" y="545.2" width="3.6" height="3.6" fill="#ccc" stroke="#2a2a2a" stroke-width="0.7"/>
<rect x="550.6" y="567.2" width="3.6" height="3.6" fill="#ccc" stroke="#2a2a2a" stroke-width="0.7"/>
<rect x="529.0" y="612.4" width="3.6" height="3.6" fill="#ccc" stroke="#2a2a2a" stroke-width="0.7"/>
<rect x="550.6" y="638.4" width="3.6" height="3.6" fill="#ccc" stroke="#2a2a2a" stroke-width="0.7"/>
<rect x="550.6" y="645.6" width="3.6" height="3.6" fill="#ccc" stroke="#2a2a2a" stroke-width="0.7"/>
<rect x="529.8" y="786.5" width="3.6" height="3.6" fill="#ccc" stroke="#2a2a2a" stroke-width="0.7"/>
<path d="M408,422.2 H437 V424.2 H408 Z M408,452.6 H437 V454.6 H408 Z" fill="#fff" stroke="#2a2a2a" stroke-width="0.8" />
<path d="M409,424.2 L427.7,431 M409.5,426 L427.7,433 M409,452.6 L427.7,446 M409.5,450.8 L427.7,444" fill="none" stroke="#2a2a2a" stroke-width="0.8" />
<rect x="427.7" y="420.9" width="2.6" height="35.3" rx="0" fill="#fff" stroke="#2a2a2a" stroke-width="0.9"/>
<path d="M443.3,425.9 H459.8 V428 H443.3 Z M443.3,449 H459.8 V451.1 H443.3 Z" fill="#fff" stroke="#2a2a2a" stroke-width="0.9" />
<path d="M446.5,428 V449 M448.3,428 V449 M454.8,428 V449 M457,428 V449" fill="none" stroke="#2a2a2a" stroke-width="0.9" />
<circle cx="422.4" cy="487.1" r="15.6" fill="#fff" stroke="#2a2a2a" stroke-width="1.0"/>
<circle cx="422.4" cy="487.1" r="14.3" fill="#fff" stroke="#2a2a2a" stroke-width="0.6"/>
<circle cx="422.4" cy="487.1" r="12.0" fill="#fff" stroke="#2a2a2a" stroke-width="0.6"/>
<circle cx="422.4" cy="487.1" r="10.8" fill="#fff" stroke="#2a2a2a" stroke-width="1.0"/>
<circle cx="422.4" cy="487.1" r="13.2" fill="none" stroke="#2a2a2a" stroke-width="2.0" stroke-dasharray="0.7 4.48"/>
<path d="M441.8,465.5 H455.5 V474.9 H461.3 V493.6 H455.5 V501.5 H441.8 L449.3,493.6 V474.9 Z" fill="#fff" stroke="#2a2a2a" stroke-width="0.9" />
<rect x="449.8" y="475.6" width="11.5" height="16.6" rx="0" fill="#fff" stroke="#111" stroke-width="0.8"/>
<rect x="451.0" y="478.0" width="9.0" height="12.0" rx="0" fill="#333" stroke="#111" stroke-width="0.8"/>
<rect x="453.0" y="480.5" width="5.0" height="5.0" rx="0" fill="#eee" stroke="#111" stroke-width="0.5"/>
<path d="M451.0,489.0 L460.0,489.0" stroke="#111" stroke-width="1.4" fill="none"/>
<path d="M413.3,530.9 H457.7 V560.4 H413.3 L411.3,558.4 V532.9 Z" fill="#fff" stroke="#2a2a2a" stroke-width="0.9" />
<circle cx="441.8" cy="545.6" r="14.7" fill="#fff" stroke="#222" stroke-width="1.2"/>
<circle cx="441.8" cy="545.6" r="13.5" fill="#fff" stroke="#333" stroke-width="0.8"/>
<rect x="409.4" y="570.5" width="50.4" height="33.1" rx="1" fill="#fff" stroke="#2a2a2a" stroke-width="1.0"/>
<path d="M409.2,579.0 L409.2,596.0" stroke="#222" stroke-width="1.6" fill="none"/>
<rect x="451.9" y="577.0" width="7.2" height="20.2" rx="0" fill="#fff" stroke="#2a2a2a" stroke-width="0.8"/>
<path d="M451.9,582.0 L459.1,582.0" stroke="#2a2a2a" stroke-width="0.7" fill="none"/>
<path d="M451.9,591.4 L459.1,591.4" stroke="#2a2a2a" stroke-width="0.7" fill="none"/>
<rect x="418.0" y="572.0" width="4.8" height="5.0" rx="0" fill="#555" stroke="#222" stroke-width="0.4"/>
<rect x="418.0" y="597.2" width="4.8" height="4.3" rx="0" fill="#555" stroke="#222" stroke-width="0.4"/>
<path d="M430.9,630 H451.8 V697.4 H459.4 V699.3 H413.8 L412.8,695.5 L410.9,675.6 L409.4,673.4 L410.9,671 L425.2,636.6 L427,634.7 H430.9 Z" fill="#fff" stroke="#2a2a2a" stroke-width="1.0" />
<rect x="434.0" y="630.5" width="13.0" height="3.3" rx="0" fill="#fff" stroke="#2a2a2a" stroke-width="0.7"/>
<rect x="424.2" y="635.7" width="2.8" height="8.5" rx="0" fill="#444" stroke="#111" stroke-width="0.4"/>
<rect x="432.2" y="638.5" width="5.3" height="7.5" rx="0" fill="#fff" stroke="#2a2a2a" stroke-width="0.8"/>
<circle cx="439.8" cy="670.8" r="7.4" fill="#fff" stroke="#2a2a2a" stroke-width="1.0"/>
<path d="M434.6,681.8 L450.8,681.8" stroke="#222" stroke-width="1.3" fill="none"/>
<path d="M424.8,656.5 L416.6,693.6 M426.6,657 L418.4,694" fill="none" stroke="#2a2a2a" stroke-width="0.8" />
<rect x="427.0" y="687.0" width="3.9" height="6.6" rx="0" fill="#444" stroke="#111" stroke-width="0.4"/>
<rect x="434.0" y="686.0" width="6.4" height="8.6" rx="0" fill="#fff" stroke="#2a2a2a" stroke-width="0.8"/>
<rect x="447.0" y="690.8" width="3.8" height="3.8" rx="0" fill="#999" stroke="#2a2a2a" stroke-width="0.6"/>
<circle cx="409.6" cy="673.4" r="1.3" fill="#999" stroke="#2a2a2a" stroke-width="0.7"/>
<path d="M446,634 V698 M450.4,634 V698" stroke="#2a2a2a" stroke-width="1.0" stroke-dasharray="1 1.8" fill="none"/>
<path d="M436.5,648 V662" stroke="#2a2a2a" stroke-width="0.8" stroke-dasharray="1 1.8" fill="none"/>
<rect x="445.5" y="642.0" width="2.2" height="3.4" rx="0" fill="#444" stroke="#111" stroke-width="0.4"/>
<path d="M412.8,715.5 Q412.8,710.3 418.5,710.3 Q421,710.3 422.3,712.6 L430.9,728.8 H452.7 V780 H432.8 L412.8,739.2 Z" fill="#fff" stroke="#2a2a2a" stroke-width="1.0" />
<circle cx="418.5" cy="716.4" r="2.0" fill="#fff" stroke="#2a2a2a" stroke-width="0.9"/>
<circle cx="411.9" cy="736.4" r="1.5" fill="#999" stroke="#2a2a2a" stroke-width="0.7"/>
<circle cx="428.0" cy="775.3" r="1.5" fill="#999" stroke="#2a2a2a" stroke-width="0.7"/>
<circle cx="428.6" cy="751.6" r="1.7" fill="#fff" stroke="#2a2a2a" stroke-width="0.8"/>
<circle cx="428.6" cy="756.7" r="1.3" fill="#fff" stroke="#2a2a2a" stroke-width="0.8"/>
<rect x="447.0" y="727.4" width="3.8" height="8.0" rx="0" fill="#fff" stroke="#2a2a2a" stroke-width="0.8"/>
<rect x="441.7" y="744.2" width="15.8" height="4.4" rx="0" fill="#fff" stroke="#111" stroke-width="1.0"/>
<rect x="445.4" y="743.4" width="6.0" height="6.0" rx="0" fill="#ddd" stroke="#111" stroke-width="0.8"/>
<path d="M441.7,746.4 L457.5,746.4" stroke="#111" stroke-width="0.9" fill="none"/>
<path d="M437.5,731 V779 M447,737 V742.6 M447,750 V779 M451.8,750 V779" stroke="#2a2a2a" stroke-width="1.0" stroke-dasharray="1 1.8" fill="none"/>
<circle cx="408.4" cy="775.3" r="4.0" fill="#fff" stroke="#2a2a2a" stroke-width="0.9"/>
<circle cx="408.4" cy="775.3" r="2.3" fill="#bbb" stroke="#2a2a2a" stroke-width="0.8"/>
<circle cx="408.4" cy="775.3" r="0.9" fill="#333" stroke="#111" stroke-width="0.4"/>
<path d="M484.2,419.2 H488.2 V425 L490.8,434 M488,424.5 L497.8,423.6 M492.2,437.8 H498.6" fill="none" stroke="#2a2a2a" stroke-width="1.5" />
<rect x="488.7" y="434.4" width="3.5" height="7.2" rx="0" fill="#333" stroke="#111" stroke-width="0.5"/>
<rect x="494.5" y="421.5" width="3.6" height="3.2" rx="0" fill="#777" stroke="#111" stroke-width="0.5"/>
<path d="M484.2,473 H488.2 V467.2 L490.8,460.5 M488,467.7 L497.8,470.4 M492.2,457.2 H498.6" fill="none" stroke="#2a2a2a" stroke-width="1.5" />
<rect x="488.7" y="453.6" width="3.5" height="7.2" rx="0" fill="#333" stroke="#111" stroke-width="0.5"/>
<rect x="494.5" y="468.8" width="3.6" height="3.2" rx="0" fill="#777" stroke="#111" stroke-width="0.5"/>
<ellipse cx="508.6" cy="421.2" rx="2.0" ry="3.4" fill="#fff" stroke="#2a2a2a" stroke-width="0.9"/>
<ellipse cx="514.2" cy="421.2" rx="2.0" ry="3.4" fill="#fff" stroke="#2a2a2a" stroke-width="0.9"/>
<ellipse cx="508.6" cy="436.8" rx="2.0" ry="3.4" fill="#fff" stroke="#2a2a2a" stroke-width="0.9"/>
<ellipse cx="514.2" cy="436.8" rx="2.0" ry="3.4" fill="#fff" stroke="#2a2a2a" stroke-width="0.9"/>
<rect x="507.9" y="449.6" width="5.1" height="8.4" rx="1.6" fill="#fff" stroke="#111" stroke-width="1.2"/>
<rect x="509.2" y="451.8" width="2.6" height="4.0" rx="0" fill="#444" stroke="#111" stroke-width="0.4"/>
<rect x="507.9" y="467.2" width="5.1" height="8.4" rx="1.6" fill="#fff" stroke="#111" stroke-width="1.2"/>
<rect x="509.2" y="469.4" width="2.6" height="4.0" rx="0" fill="#444" stroke="#111" stroke-width="0.4"/>
<path d="M483.8,532.8 V503 Q483.8,490.8 496,490.8 H513.8" fill="none" stroke="#555" stroke-width="2.6" />
<path d="M483.8,532.8 V503 Q483.8,490.8 496,490.8 H513.8" fill="none" stroke="#ddd" stroke-width="0.9" />
<path d="M495.8,491 V531.6 M484,511.6 H513.8 M487,531.6 H513.8" fill="none" stroke="#555" stroke-width="2.4" />
<path d="M495.8,491 V531.6 M484,511.6 H513.8 M487,531.6 H513.8" fill="none" stroke="#ddd" stroke-width="0.8" />
<path d="M484.4,522 Q485.5,530.6 492,531.6" fill="none" stroke="#555" stroke-width="1.2" />
<path d="M483.4,556.8 H486.6 V565.6 H490.6 V582.4 H483 V565.6 H483.4 Z" fill="#fff" stroke="#2a2a2a" stroke-width="1.0" />
<path d="M483,570 H490.6 M483,577 H490.6 M484,570 L489.6,577" fill="none" stroke="#2a2a2a" stroke-width="0.7" />
<path d="M488.2,588 H490.6 V593 H490.6 V613.6 H484.2 V593 H488.2 Z" fill="#fff" stroke="#2a2a2a" stroke-width="1.0" />
<path d="M484.2,598 H490.6 M484.2,607.5 H490.6 M485,598 L489.8,607" fill="none" stroke="#2a2a2a" stroke-width="0.7" />
<path d="M483.2,608.0 L491.6,608.0" stroke="#222" stroke-width="1.1" fill="none"/>
<path d="M499.4,557.3 L517,561.6 V604 H499.4 Z" fill="#fff" stroke="#2a2a2a" stroke-width="1.0" />
<path d="M483.4,631.5 Q483.4,628.5 485.8,627 L494.5,620.8 Q498,619.8 499.4,622.8 Q500.2,626 497.4,627.4 L490.6,631 V670 Q490.6,673.6 487,673.6 Q483.4,673.6 483.4,670 Z" fill="#fff" stroke="#2a2a2a" stroke-width="1.0" />
<path d="M487.6,628.8 L495,624.6" fill="none" stroke="#999" stroke-width="2.2" />
<circle cx="486.9" cy="670.7" r="2.4" fill="#888" stroke="#111" stroke-width="1.3"/>
<circle cx="496.0" cy="623.8" r="1.5" fill="#fff" stroke="#2a2a2a" stroke-width="0.8"/>
<rect x="506.3" y="615.2" width="8.6" height="19.2" rx="0" fill="#fff" stroke="#2a2a2a" stroke-width="1.0"/>
<path d="M506.3,624.8 L514.9,624.8" stroke="#2a2a2a" stroke-width="0.8" fill="none"/>
<rect x="508.5" y="614.0" width="3.2" height="1.3" rx="0" fill="#888" stroke="#2a2a2a" stroke-width="0.5"/>
<rect x="503.2" y="642.8" width="7.0" height="8.4" rx="1" fill="#fff" stroke="#111" stroke-width="1.1"/>
<circle cx="504.0" cy="650.2" r="1.6" fill="#fff" stroke="#111" stroke-width="0.9"/>
<circle cx="509.6" cy="650.2" r="1.6" fill="#fff" stroke="#111" stroke-width="0.9"/>
<circle cx="506.8" cy="651.8" r="1.4" fill="#fff" stroke="#111" stroke-width="0.8"/>
<rect x="503.2" y="662.8" width="7.0" height="8.4" rx="1" fill="#fff" stroke="#111" stroke-width="1.1"/>
<circle cx="504.0" cy="670.2" r="1.6" fill="#fff" stroke="#111" stroke-width="0.9"/>
<circle cx="509.6" cy="670.2" r="1.6" fill="#fff" stroke="#111" stroke-width="0.9"/>
<circle cx="506.8" cy="671.8" r="1.4" fill="#fff" stroke="#111" stroke-width="0.8"/>
<path d="M480.2,695.2 H485.4 V722 L484.59999999999997,724 V730 L482.8,736 L481.0,730 V724 L480.2,722 Z" fill="#fff" stroke="#2a2a2a" stroke-width="1.0" />
<path d="M480.8,724.0 L484.8,724.0" stroke="#2a2a2a" stroke-width="0.7" fill="none"/>
<path d="M492.2,695.2 H497.4 V722 L496.59999999999997,724 V730 L494.8,736 L493.0,730 V724 L492.2,722 Z" fill="#fff" stroke="#2a2a2a" stroke-width="1.0" />
<path d="M492.8,724.0 L496.8,724.0" stroke="#2a2a2a" stroke-width="0.7" fill="none"/>
<circle cx="489.0" cy="713.6" r="2.6" fill="#fff" stroke="#2a2a2a" stroke-width="0.9"/>
<circle cx="501.0" cy="704.8" r="2.6" fill="#fff" stroke="#2a2a2a" stroke-width="0.9"/>
<circle cx="501.0" cy="725.6" r="2.6" fill="#fff" stroke="#2a2a2a" stroke-width="0.9"/>
<path d="M507.4,700.8 H510.6 V748.8 H493 L494.4,745 L507.4,744.4 Z" fill="#fff" stroke="#2a2a2a" stroke-width="1.0" />
<rect x="494.6" y="748.8" width="14.4" height="4.0" rx="0" fill="#fff" stroke="#2a2a2a" stroke-width="0.9"/>
<path d="M493.8,752 L486.6,768 M510.2,749.5 L505,767.7" fill="none" stroke="#222" stroke-width="3.4" />
<path d="M493.8,752 L486.6,768 M510.2,749.5 L505,767.7" fill="none" stroke="#ddd" stroke-width="1.4" />
<circle cx="486.6" cy="768.0" r="2.1" fill="#ccc" stroke="#111" stroke-width="1.3"/>
<circle cx="505.0" cy="767.7" r="2.1" fill="#ccc" stroke="#111" stroke-width="1.3"/>
<path d="M488.6,768.0 L503.0,768.0" stroke="#2a2a2a" stroke-width="0.9" fill="none"/>
<rect x="491.4" y="769.6" width="8.0" height="12.0" rx="0" fill="#fff" stroke="#2a2a2a" stroke-width="0.9"/>
<rect x="538.6" y="420.0" width="6.4" height="5.6" rx="0" fill="#fff" stroke="#2a2a2a" stroke-width="0.9"/>
<rect x="538.6" y="433.6" width="6.4" height="6.4" rx="0" fill="#fff" stroke="#111" stroke-width="0.9"/>
<rect x="538.6" y="433.6" width="3.0" height="6.4" rx="0" fill="#444" stroke="#111" stroke-width="0.4"/>
<rect x="538.6" y="445.6" width="6.4" height="2.4" rx="0" fill="#aaa" stroke="#111" stroke-width="0.7"/>
<rect x="542.3" y="448.0" width="2.2" height="18.4" rx="0" fill="#ccc" stroke="#2a2a2a" stroke-width="0.7"/>
<rect x="536.2" y="475.2" width="10.4" height="20.8" rx="0" fill="#fff" stroke="#2a2a2a" stroke-width="0.9"/>
<rect x="536.2" y="505.6" width="10.4" height="22.4" rx="0" fill="#fff" stroke="#2a2a2a" stroke-width="0.9"/>
<rect x="538.9" y="538.4" width="5.3" height="10.4" rx="0" fill="#fff" stroke="#111" stroke-width="1.2"/>
<path d="M540.6,540.0 L540.6,547.5" stroke="#111" stroke-width="0.6" fill="none"/>
<path d="M542.5,540.0 L542.5,547.5" stroke="#111" stroke-width="0.6" fill="none"/>
<circle cx="541.8" cy="562.4" r="3.6" fill="#fff" stroke="#111" stroke-width="1.5"/>
<circle cx="541.8" cy="562.4" r="1.5" fill="#aaa" stroke="#111" stroke-width="0.6"/>
<circle cx="541.8" cy="576.0" r="3.6" fill="#fff" stroke="#111" stroke-width="1.5"/>
<circle cx="541.8" cy="576.0" r="1.5" fill="#aaa" stroke="#111" stroke-width="0.6"/>
<circle cx="541.8" cy="594.7" r="7.6" fill="#fff" stroke="#2a2a2a" stroke-width="1.0"/>
<circle cx="541.8" cy="594.7" r="2.6" fill="#fff" stroke="#222" stroke-width="1.3"/>
<rect x="535.4" y="601.6" width="12.5" height="4.8" rx="0" fill="#fff" stroke="#2a2a2a" stroke-width="0.9"/>
<path d="M538.6,617.5 Q538.6,616.5 540,616.5 H544.5 Q547,616.5 547,619.5 V628.0 H538.6 Z" fill="#fff" stroke="#111" stroke-width="1.0" />
<rect x="536.2" y="628.0" width="9.8" height="12.5" rx="0" fill="#3a3a3a" stroke="#111" stroke-width="0.8"/>
<rect x="537.8" y="630.0" width="3.0" height="3.0" rx="0" fill="#ddd" stroke="#ddd" stroke-width="0.3"/>
<rect x="541.6" y="634.5" width="3.0" height="3.0" rx="0" fill="#ddd" stroke="#ddd" stroke-width="0.3"/>
<path d="M538.0,638.5 L544.5,631.5" stroke="#ddd" stroke-width="0.6" fill="none"/>
<path d="M538.6,650.6 Q538.6,649.6 540,649.6 H544.5 Q547,649.6 547,652.6 V661.1 H538.6 Z" fill="#fff" stroke="#111" stroke-width="1.0" />
<rect x="536.2" y="661.1" width="9.8" height="12.5" rx="0" fill="#3a3a3a" stroke="#111" stroke-width="0.8"/>
<rect x="537.8" y="663.1" width="3.0" height="3.0" rx="0" fill="#ddd" stroke="#ddd" stroke-width="0.3"/>
<rect x="541.6" y="667.6" width="3.0" height="3.0" rx="0" fill="#ddd" stroke="#ddd" stroke-width="0.3"/>
<path d="M538.0,671.6 L544.5,664.6" stroke="#ddd" stroke-width="0.6" fill="none"/>
<circle cx="541.8" cy="686.7" r="4.6" fill="#555" stroke="#111" stroke-width="0.9"/>
<circle cx="541.8" cy="686.7" r="1.6" fill="#ddd" stroke="#111" stroke-width="0.5"/>
<circle cx="541.8" cy="686.7" r="2.9" fill="none" stroke="#ddd" stroke-width="0.7" stroke-dasharray="0.9 0.8"/>
<circle cx="541.8" cy="704.0" r="4.6" fill="#555" stroke="#111" stroke-width="0.9"/>
<circle cx="541.8" cy="704.0" r="1.6" fill="#ddd" stroke="#111" stroke-width="0.5"/>
<circle cx="541.8" cy="704" r="2.9" fill="none" stroke="#ddd" stroke-width="0.7" stroke-dasharray="0.9 0.8"/>
<circle cx="541.8" cy="721.3" r="4.6" fill="#555" stroke="#111" stroke-width="0.9"/>
<circle cx="541.8" cy="721.3" r="1.6" fill="#ddd" stroke="#111" stroke-width="0.5"/>
<circle cx="541.8" cy="721.3" r="2.9" fill="none" stroke="#ddd" stroke-width="0.7" stroke-dasharray="0.9 0.8"/>
<circle cx="541.8" cy="739.2" r="4.6" fill="#555" stroke="#111" stroke-width="0.9"/>
<circle cx="541.8" cy="739.2" r="1.6" fill="#ddd" stroke="#111" stroke-width="0.5"/>
<circle cx="541.8" cy="739.2" r="2.9" fill="none" stroke="#ddd" stroke-width="0.7" stroke-dasharray="0.9 0.8"/>
<circle cx="541.8" cy="757.1" r="4.6" fill="#555" stroke="#111" stroke-width="0.9"/>
<circle cx="541.8" cy="757.1" r="1.6" fill="#ddd" stroke="#111" stroke-width="0.5"/>
<circle cx="541.8" cy="757.1" r="2.9" fill="none" stroke="#ddd" stroke-width="0.7" stroke-dasharray="0.9 0.8"/>
<circle cx="541.8" cy="774.7" r="4.6" fill="#555" stroke="#111" stroke-width="0.9"/>
<circle cx="541.8" cy="774.7" r="1.6" fill="#ddd" stroke="#111" stroke-width="0.5"/>
<circle cx="541.8" cy="774.7" r="2.9" fill="none" stroke="#ddd" stroke-width="0.7" stroke-dasharray="0.9 0.8"/>
<path d="M56.6,854 L180.4,856.9 V917.3 L56.6,920.8 Z" fill="#fff" stroke="#555" stroke-width="0.7" />
<rect x="63.2" y="866.0" width="107.2" height="39.8" rx="0" fill="#fff" stroke="#555" stroke-width="0.8"/>
<path d="M63.2,866 H170.4 M63.2,905.8 H170.4" fill="none" stroke="#555" stroke-width="1.6" />
<path d="M50.8,866 H63.2 V869 H50.8 Z M50.8,903.6 H63.2 V906.6 H50.8 Z" fill="#fff" stroke="#555" stroke-width="0.7" />
<rect x="61.8" y="864.4" width="4.0" height="5.6" rx="0" fill="#fff" stroke="#555" stroke-width="0.7"/>
<rect x="61.8" y="902.2" width="4.0" height="5.6" rx="0" fill="#fff" stroke="#555" stroke-width="0.7"/>
<path d="M170.4,866 H192 V905.8 H170.4 Z M172.6,866 V905.8 M182.5,866 V905.8" fill="#fff" stroke="#555" stroke-width="0.8" />
<path d="M170.4,866 H183 M170.4,905.8 H183" fill="none" stroke="#444" stroke-width="1.8" />
<path d="M141.6,866.0 L141.6,905.8" stroke="#555" stroke-width="0.7" fill="none"/>
<circle cx="75.9" cy="871.8" r="2.3" fill="#fff" stroke="#444" stroke-width="0.8"/>
<circle cx="100.7" cy="871.8" r="2.3" fill="#fff" stroke="#444" stroke-width="0.8"/>
<circle cx="77.3" cy="881.9" r="4.0" fill="#fff" stroke="#444" stroke-width="0.8"/>
<circle cx="118.5" cy="886.2" r="4.3" fill="#fff" stroke="#444" stroke-width="0.8"/>
<circle cx="84.8" cy="901.5" r="2.3" fill="#fff" stroke="#444" stroke-width="0.8"/>
<circle cx="100.7" cy="901.5" r="2.3" fill="#fff" stroke="#444" stroke-width="0.8"/>
<circle cx="153.1" cy="881.0" r="2.6" fill="#fff" stroke="#444" stroke-width="0.8"/>
<circle cx="163.2" cy="905.0" r="1.4" fill="#fff" stroke="#444" stroke-width="0.8"/>
<circle cx="163.2" cy="868.4" r="1.4" fill="#fff" stroke="#444" stroke-width="0.8"/>
<circle cx="73.9" cy="894.3" r="2.0" fill="#aaa" stroke="#333" stroke-width="1.0"/>
<rect x="80.5" y="890.0" width="9.8" height="6.3" rx="1.5" fill="#fff" stroke="#444" stroke-width="0.8"/>
<rect x="161.2" y="871.8" width="6.8" height="8.7" rx="2.4" fill="#fff" stroke="#333" stroke-width="1.1"/>
<text x="101.8" y="936.7" font-size="16" text-anchor="start" fill="#111" font-family='"Liberation Sans", sans-serif' font-weight="normal" textLength="79" lengthAdjust="spacingAndGlyphs">Lower hull</text>
<rect x="212" y="839.6" width="39.80000000000001" height="10.399999999999977" rx="3" fill="#fff" stroke="#4c4c4c" stroke-width="0.9"/>
<path d="M210,850.5 H353.7 V923.2 H221.8 V850.5 M324.1,850.5 V861 M324.1,923.2 V912.5 M221.8,887.6 H232 M210,900.5 H221.8 " stroke="#8a8a8a" stroke-width="4.30" fill="none" stroke-linejoin="round" stroke-linecap="butt"/>
<path d="M257.2,851.5 V860.5 M257.2,922.2 V913.5 " stroke="#8a8a8a" stroke-width="3.70" fill="none" stroke-linejoin="round" stroke-linecap="butt"/>
<path d="M210,850.5 H353.7 V923.2 H221.8 V850.5 M324.1,850.5 V861 M324.1,923.2 V912.5 M221.8,887.6 H232 M210,900.5 H221.8 " stroke="#fff" stroke-width="2.90" fill="none" stroke-linejoin="round" stroke-linecap="butt"/>
<path d="M257.2,851.5 V860.5 M257.2,922.2 V913.5 " stroke="#fff" stroke-width="2.30" fill="none" stroke-linejoin="round" stroke-linecap="butt"/>
<text x="229" y="846.2" font-size="5" text-anchor="middle" fill="#aaa" font-family='"Liberation Sans", sans-serif' font-weight="bold" textLength="27" lengthAdjust="spacingAndGlyphs">modelcollect</text>
<path d="M243.0,844.0 L244.4,844.0" stroke="#666" stroke-width="0.9" fill="none"/>
<circle cx="246.9" cy="843.9" r="3.2" fill="#ccc" stroke="#555" stroke-width="1.0"/>
<text x="246.9" y="845.7" font-size="4.6" text-anchor="middle" fill="#444" font-family='"Liberation Sans", sans-serif' font-weight="bold" >A</text>
<rect x="216.0" y="869.0" width="5.0" height="4.3" rx="0" fill="#fff" stroke="#8a8a8a" stroke-width="0.6"/>
<rect x="258.6" y="852.5" width="2.8" height="2.8" fill="#fff" stroke="#4c4c4c" stroke-width="0.6"/>
<path d="M260.1,853.1 v1.6" stroke="#4c4c4c" stroke-width="0.6"/>
<path d="M231.1,862.6 L326.7,864.6 V907 L231.1,908.7 L234,906.4 V865.5 Z" fill="#fff" stroke="#666" stroke-width="0.8" />
<path d="M234,865.5 H325.3 M234,906.4 H325.3" fill="none" stroke="#555" stroke-width="1.3" />
<path d="M267.7,865.5 L267.7,906.4" stroke="#444" stroke-width="0.9" fill="none"/>
<path d="M307.0,865.5 L307.0,906.4" stroke="#888" stroke-width="0.5" fill="none"/>
<circle cx="286.4" cy="886.2" r="15.8" fill="#fff" stroke="#555" stroke-width="0.9"/>
<circle cx="286.4" cy="886.2" r="14.4" fill="#fff" stroke="#666" stroke-width="0.7"/>
<rect x="308.9" y="871.8" width="14.4" height="29.4" rx="2.5" fill="#fff" stroke="#222" stroke-width="1.2"/>
<rect x="310.6" y="873.5" width="11.0" height="26.0" rx="1.8" fill="#fff" stroke="#444" stroke-width="0.5"/>
<circle cx="316.2" cy="886.5" r="2.4" fill="#fff" stroke="#222" stroke-width="0.9"/>
<circle cx="316.2" cy="886.5" r="1.0" fill="#888" stroke="#222" stroke-width="0.5"/>
<path d="M312.5,878.5 Q316.2,875 320,878.5 M312.5,894.5 Q316.2,898 320,894.5" fill="none" stroke="#222" stroke-width="1.0" />
<rect x="314.8" y="879.5" width="2.8" height="2.0" rx="0" fill="#333" stroke="#222" stroke-width="0.4"/>
<rect x="314.8" y="891.5" width="2.8" height="2.0" rx="0" fill="#333" stroke="#222" stroke-width="0.4"/>
<path d="M310,868.8 H323 M310,904 H323" stroke="#555" stroke-width="0.8" stroke-dasharray="0.8 2"/>
<rect x="337.7" y="856.9" width="6.9" height="13.5" rx="0" fill="#fff" stroke="#555" stroke-width="0.6"/>
<rect x="338.3" y="861.5" width="5.7" height="5.2" rx="0" fill="#333" stroke="#222" stroke-width="0.4"/>
<path d="M338.3,859.4 L344.0,859.4" stroke="#444" stroke-width="0.8" fill="none"/>
<rect x="337.7" y="902.0" width="6.9" height="13.5" rx="0" fill="#fff" stroke="#555" stroke-width="0.6"/>
<rect x="338.3" y="903.6" width="5.7" height="5.2" rx="0" fill="#333" stroke="#222" stroke-width="0.4"/>
<path d="M338.3,912.6 L344.0,912.6" stroke="#444" stroke-width="0.8" fill="none"/>
<path d="M326.7,864.6 L337.7,863 M326.7,907 L337.7,909 M323.3,886.3 H332 M344,870.4 Q346,886 344,902" fill="none" stroke="#666" stroke-width="0.6" />
<rect x="332.0" y="884.6" width="3.0" height="3.0" rx="0" fill="#888" stroke="#444" stroke-width="0.5"/>
<rect x="380.9" y="819.6" width="62.0" height="39.7" rx="1" fill="#f7f7f7" stroke="#d8d8d8" stroke-width="0.5"/>
<rect x="384.3" y="822.8" width="10.6" height="17.9" rx="0" fill="#d9d9d9" stroke="#666" stroke-width="0.6"/>
<rect x="385.7" y="824.2" width="7.8" height="15.2" rx="0" fill="#262626" stroke="#1a1a1a" stroke-width="0.4"/>
<path d="M387.7,826.5 V838.6 M389.6,826.5 V838.6 M391.5,826.5 V838.6" stroke="#6a6a6a" stroke-width="0.4" stroke-dasharray="0.8 0.8"/>
<path d="M386.90000000000003,825.2 H388.90000000000003 M390.3,825.2 H392.3" stroke="#ddd" stroke-width="0.8"/>
<rect x="398.4" y="822.8" width="10.6" height="17.9" rx="0" fill="#d9d9d9" stroke="#666" stroke-width="0.6"/>
<rect x="399.8" y="824.2" width="7.8" height="15.2" rx="0" fill="#262626" stroke="#1a1a1a" stroke-width="0.4"/>
<path d="M401.79999999999995,826.5 V838.6 M403.7,826.5 V838.6 M405.59999999999997,826.5 V838.6" stroke="#6a6a6a" stroke-width="0.4" stroke-dasharray="0.8 0.8"/>
<path d="M401.0,825.2 H403.0 M404.4,825.2 H406.4" stroke="#ddd" stroke-width="0.8"/>
<rect x="412.3" y="822.8" width="10.6" height="17.9" rx="0" fill="#d9d9d9" stroke="#666" stroke-width="0.6"/>
<rect x="413.7" y="824.2" width="7.8" height="15.2" rx="0" fill="#262626" stroke="#1a1a1a" stroke-width="0.4"/>
<path d="M415.7,826.5 V838.6 M417.6,826.5 V838.6 M419.5,826.5 V838.6" stroke="#6a6a6a" stroke-width="0.4" stroke-dasharray="0.8 0.8"/>
<path d="M414.90000000000003,825.2 H416.90000000000003 M418.3,825.2 H420.3" stroke="#ddd" stroke-width="0.8"/>
<rect x="426.3" y="822.8" width="10.6" height="17.9" rx="0" fill="#d9d9d9" stroke="#666" stroke-width="0.6"/>
<rect x="427.7" y="824.2" width="7.8" height="15.2" rx="0" fill="#262626" stroke="#1a1a1a" stroke-width="0.4"/>
<path d="M429.7,826.5 V838.6 M431.6,826.5 V838.6 M433.5,826.5 V838.6" stroke="#6a6a6a" stroke-width="0.4" stroke-dasharray="0.8 0.8"/>
<path d="M428.90000000000003,825.2 H430.90000000000003 M432.3,825.2 H434.3" stroke="#ddd" stroke-width="0.8"/>
<path d="M439.0,823.0 L439.0,841.0" stroke="#888" stroke-width="0.6" fill="none"/>
<path d="M381.5,831.6 L384.3,831.6" stroke="#999" stroke-width="0.5" fill="none"/>
<circle cx="391.1" cy="849.0" r="6.3" fill="#b5b5b5" stroke="#777" stroke-width="0.8"/>
<circle cx="391.1" cy="849.0" r="4.7" fill="#2a2a2a" stroke="#1a1a1a" stroke-width="0.6"/>
<circle cx="391.1" cy="849.0" r="1.2" fill="#555" stroke="#555" stroke-width="0.3"/>
<circle cx="406.1" cy="849.0" r="6.3" fill="#b5b5b5" stroke="#777" stroke-width="0.8"/>
<circle cx="406.1" cy="849.0" r="4.7" fill="#2a2a2a" stroke="#1a1a1a" stroke-width="0.6"/>
<circle cx="406.1" cy="849.0" r="1.2" fill="#555" stroke="#555" stroke-width="0.3"/>
<rect x="414.8" y="844.0" width="6.4" height="10.8" rx="0" fill="#eee" stroke="#666" stroke-width="0.5"/>
<path d="M416.2,844 V854.8 M417.8,844 V854.8 M419.4,844 V854.8" stroke="#333" stroke-width="0.9"/>
<rect x="423.5" y="844.0" width="6.7" height="10.8" rx="0" fill="#eee" stroke="#666" stroke-width="0.5"/>
<path d="M423.5,847 H430.2 M423.5,850.5 H430.2 M426.8,844 V854.8" stroke="#444" stroke-width="0.7"/>
<rect x="431.5" y="842.6" width="8.3" height="12.9" rx="0" fill="#eee" stroke="#555" stroke-width="0.6"/>
<circle cx="435.8" cy="850.0" r="2.7" fill="#fff" stroke="#444" stroke-width="0.8"/>
<path d="M432.0,843.6 L439.2,846.5" stroke="#555" stroke-width="0.7" fill="none"/>
<text x="383" y="875.4" font-size="16" text-anchor="start" fill="#111" font-family='"Liberation Sans", sans-serif' font-weight="normal" textLength="21.6" lengthAdjust="spacingAndGlyphs">PE</text>
<rect x="408.4" y="894" width="30.400000000000034" height="7.5" rx="1.5" fill="#fff" stroke="#4c4c4c" stroke-width="0.9"/>
<path d="M394.8,901.4 H445.2 V944.5 H386.8 V909.4 Q386.8,901.4 394.8,901.4 Z M416.8,901.4 V911.5 M416.8,944.5 V933.5 M386.8,927.2 H397.5 M445.2,927.2 H437 " stroke="#8a8a8a" stroke-width="3.70" fill="none" stroke-linejoin="round" stroke-linecap="butt"/>
<path d="M394.8,901.4 H445.2 V944.5 H386.8 V909.4 Q386.8,901.4 394.8,901.4 Z M416.8,901.4 V911.5 M416.8,944.5 V933.5 M386.8,927.2 H397.5 M445.2,927.2 H437 " stroke="#fff" stroke-width="2.30" fill="none" stroke-linejoin="round" stroke-linecap="butt"/>
<text x="421" y="899.3" font-size="4.6" text-anchor="middle" fill="#777" font-family='"Liberation Sans", sans-serif' font-weight="bold" textLength="20" lengthAdjust="spacingAndGlyphs">modelcollect</text>
<path d="M431.0,897.4 L432.2,897.4" stroke="#555" stroke-width="0.8" fill="none"/>
<circle cx="434.8" cy="897.3" r="2.4" fill="#fff" stroke="#444" stroke-width="0.8"/>
<text x="434.8" y="898.9" font-size="3.8" text-anchor="middle" fill="#333" font-family='"Liberation Sans", sans-serif' font-weight="bold" >D</text>
<rect x="439.5" y="903.8" width="3" height="3" fill="#fff" stroke="#4c4c4c" stroke-width="0.6"/>
<path d="M441.1,904.4 v1.8" stroke="#4c4c4c" stroke-width="0.6"/>
<path d="M406.5,912.4 H428.4 V920.4 H435.6 L432.4,931.6 H402 L398.8,920.4 H406.5 Z" fill="#fff" stroke="#666" stroke-width="0.8" />
<path d="M394.8,920.4 L404.4,920.4" stroke="#333" stroke-width="1.8" fill="none"/>
<path d="M428.8,920.4 L438.8,920.4" stroke="#333" stroke-width="1.8" fill="none"/>
<circle cx="417.2" cy="918.8" r="2.4" fill="#fff" stroke="#444" stroke-width="0.8"/>
<circle cx="409.2" cy="918.6" r="0.7" fill="#333" stroke="#333" stroke-width="0.4"/>
<circle cx="425.5" cy="918.6" r="0.7" fill="#333" stroke="#333" stroke-width="0.4"/>
<path d="M428,930.5 L430,927 L432,930.5 Z" fill="#fff" stroke="#777" stroke-width="0.5" />
<rect x="472.7" y="843.6" width="109.4" height="85.1" rx="0" fill="#86d2c2" stroke="none" stroke-width="0"/>
<path d="M477.0,852.738 H479.838 V849.9000000000001 H482.762 V852.738 H485.6 V855.662 H482.762 V858.5 H479.838 V855.662 H477.0 Z" fill="#fff" stroke="#fff" stroke-width="1.6" stroke-linejoin="miter"/>
<path d="M477.3,853.426 H480.526 V850.2 H482.074 V853.426 H485.3 V854.974 H482.074 V858.2 H480.526 V854.974 H477.3 Z" fill="#111"/>
<path d="M493.3,852.738 H496.13800000000003 V849.9000000000001 H499.062 V852.738 H501.90000000000003 V855.662 H499.062 V858.5 H496.13800000000003 V855.662 H493.3 Z" fill="#fff" stroke="#fff" stroke-width="1.6" stroke-linejoin="miter"/>
<path d="M493.6,853.426 H496.826 V850.2 H498.374 V853.426 H501.6 V854.974 H498.374 V858.2 H496.826 V854.974 H493.6 Z" fill="#111"/>
<path d="M510.2,852.738 H513.038 V849.9000000000001 H515.962 V852.738 H518.8 V855.662 H515.962 V858.5 H513.038 V855.662 H510.2 Z" fill="#fff" stroke="#fff" stroke-width="1.6" stroke-linejoin="miter"/>
<path d="M510.5,853.426 H513.726 V850.2 H515.274 V853.426 H518.5 V854.974 H515.274 V858.2 H513.726 V854.974 H510.5 Z" fill="#111"/>
<path d="M529.0,852.6020000000001 H532.1020000000001 V849.5 H535.298 V852.6020000000001 H538.4000000000001 V855.798 H535.298 V858.9000000000001 H532.1020000000001 V855.798 H529.0 Z" fill="#111"/>
<path d="M545.3,852.6020000000001 H548.402 V849.5 H551.598 V852.6020000000001 H554.7 V855.798 H551.598 V858.9000000000001 H548.402 V855.798 H545.3 Z" fill="#111"/>
<path d="M561.6999999999999,852.6020000000001 H564.802 V849.5 H567.9979999999999 V852.6020000000001 H571.1 V855.798 H567.9979999999999 V858.9000000000001 H564.802 V855.798 H561.6999999999999 Z" fill="#111"/>
<path d="M559.3,896.312 H561.412 V894.1999999999999 H563.588 V896.312 H565.7 V898.4879999999999 H563.588 V900.6 H561.412 V898.4879999999999 H559.3 Z" fill="#fff" stroke="#fff" stroke-width="1.6" stroke-linejoin="miter"/>
<path d="M559.5999999999999,896.824 H561.924 V894.4999999999999 H563.076 V896.824 H565.4000000000001 V897.976 H563.076 V900.3000000000001 H561.924 V897.976 H559.5999999999999 Z" fill="#111"/>
<path d="M559.0,908.41 H561.31 V906.1 H563.69 V908.41 H566.0 V910.7900000000001 H563.69 V913.1 H561.31 V910.7900000000001 H559.0 Z" fill="#111"/>
<path d="M571.1999999999999,896.312 H573.312 V894.1999999999999 H575.4879999999999 V896.312 H577.6 V898.4879999999999 H575.4879999999999 V900.6 H573.312 V898.4879999999999 H571.1999999999999 Z" fill="#fff" stroke="#fff" stroke-width="1.6" stroke-linejoin="miter"/>
<path d="M571.4999999999999,896.824 H573.824 V894.4999999999999 H574.976 V896.824 H577.3000000000001 V897.976 H574.976 V900.3000000000001 H573.824 V897.976 H571.4999999999999 Z" fill="#111"/>
<path d="M570.9,908.41 H573.2099999999999 V906.1 H575.59 V908.41 H577.9 V910.7900000000001 H575.59 V913.1 H573.2099999999999 V910.7900000000001 H570.9 Z" fill="#111"/>
<text x="479.8" y="872.2" font-size="8.8" fill="#86d2c2" stroke="#223" stroke-width="0.55" font-family='"Liberation Sans", sans-serif' textLength="11.4" lengthAdjust="spacingAndGlyphs">036</text>
<rect x="498.6" y="865.8" width="11.5" height="6.6" rx="2.5" fill="#c3cf9a" stroke="none" stroke-width="0"/>
<rect x="515.3" y="864.8" width="5.4" height="7.6" rx="0" fill="#fff" stroke="none" stroke-width="0"/>
<path d="M517,871.4000000000001 L518,868.7 L516.6,866.8000000000001 L518.6,865.8000000000001 L519.6,869.0 L519.4,871.6" fill="none" stroke="#111" stroke-width="0.9" />
<path d="M529.5,869.7 L534,865.7 L538,867.7 L541.8,866.2 L539,869.6 L541,871.6 H532 Z" fill="#7b3b33" stroke="#4a2a26" stroke-width="0.6" />
<text x="479.8" y="885.4" font-size="8.8" fill="#86d2c2" stroke="#223" stroke-width="0.55" font-family='"Liberation Sans", sans-serif' textLength="11.4" lengthAdjust="spacingAndGlyphs">036</text>
<rect x="498.6" y="879.0" width="11.5" height="6.6" rx="2.5" fill="#c3cf9a" stroke="none" stroke-width="0"/>
<rect x="515.3" y="878.0" width="5.4" height="7.6" rx="0" fill="#fff" stroke="none" stroke-width="0"/>
<path d="M517,884.6 L518,881.9 L516.6,880.0 L518.6,879.0 L519.6,882.1999999999999 L519.4,884.8" fill="none" stroke="#111" stroke-width="0.9" />
<path d="M529.5,882.9 L534,878.9 L538,880.9 L541.8,879.4 L539,882.8 L541,884.8 H532 Z" fill="#7b3b33" stroke="#4a2a26" stroke-width="0.6" />
<rect x="548.5" y="867.6" width="31.7" height="19.6" rx="0" fill="#fff" stroke="none" stroke-width="0"/>
<path d="M553,867.6 V887.2 M557.5,867.6 V887.2 M562,867.6 V887.2 M566.5,867.6 V887.2 M571,867.6 V887.2 M575.5,867.6 V887.2" stroke="#86d2c2" stroke-width="0.7"/>
<text x="480.2" y="901.4" font-size="9.4" fill="#f4dcd6" stroke="#d04a4a" stroke-width="0.5" font-family='"Liberation Sans", sans-serif' textLength="69" lengthAdjust="spacing">00123456789</text>
<text x="480.2" y="912" font-size="9.4" fill="#f4dcd6" stroke="#d04a4a" stroke-width="0.5" font-family='"Liberation Sans", sans-serif' textLength="69" lengthAdjust="spacing">00123456789</text>
<text x="474.3" y="927" font-size="11.6" fill="#0d2a27" font-weight="bold" font-family='"Liberation Sans", sans-serif' textLength="52.4" lengthAdjust="spacingAndGlyphs">modelcollect</text>
<path d="M530,922.6 H541 M530,924.4 H544.5 M530,926.2 H545.6" stroke="#3f7f76" stroke-width="0.8" stroke-dasharray="2.2 0.6"/>
<text x="510.6" y="947.4" font-size="16" text-anchor="start" fill="#111" font-family='"Liberation Sans", sans-serif' font-weight="normal" textLength="43.4" lengthAdjust="spacingAndGlyphs">Decal</text>
</svg>
</body></html>
